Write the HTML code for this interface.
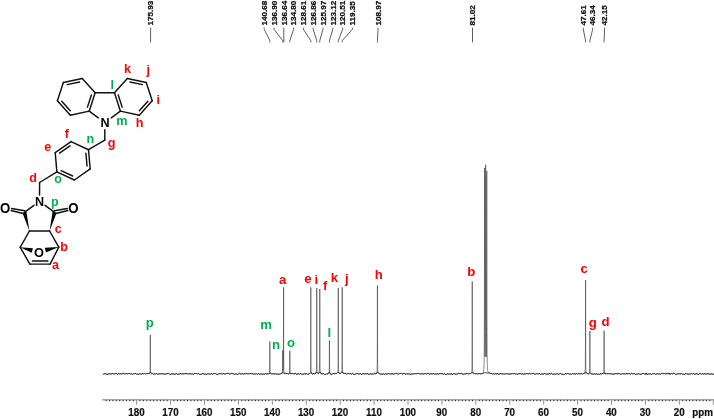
<!DOCTYPE html>
<html><head><meta charset="utf-8"><style>
html,body{margin:0;padding:0;background:#fff;}
svg{display:block;filter:blur(0.3px);}
text{font-family:"Liberation Sans",sans-serif;font-weight:bold;}
</style></head><body>
<svg width="714" height="419" viewBox="0 0 714 419">
<rect width="714" height="419" fill="#fff"/>
<path d="M103.00,373.90 L103.33,374.19 L103.66,374.06 L103.99,373.83 L104.65,373.96 L105.31,373.63 L105.64,373.64 L105.97,374.06 L106.30,374.13 L106.96,374.12 L107.95,374.25 L108.28,373.93 L108.61,373.83 L110.26,373.81 L110.92,374.20 L111.25,374.14 L111.58,373.69 L112.57,373.57 L112.90,373.71 L113.23,374.09 L113.89,373.68 L114.88,373.86 L115.21,374.08 L115.87,373.41 L116.20,373.37 L116.86,373.70 L117.52,374.24 L117.85,374.21 L118.51,373.57 L118.84,373.34 L119.17,373.58 L119.50,374.07 L119.83,374.14 L120.49,373.81 L120.82,373.42 L121.15,373.45 L121.48,373.90 L121.81,374.06 L122.47,373.67 L123.13,373.41 L123.46,373.35 L123.79,373.40 L124.12,373.65 L124.45,374.03 L125.11,373.68 L125.44,373.80 L125.77,373.76 L126.10,373.54 L126.43,373.48 L126.76,373.92 L127.09,374.10 L127.42,373.89 L127.75,373.78 L128.08,373.87 L128.74,373.34 L129.07,373.29 L129.40,373.46 L130.06,374.04 L130.72,374.12 L131.38,373.64 L131.71,373.63 L132.04,373.83 L132.37,374.34 L132.70,374.39 L133.36,373.82 L133.69,373.75 L134.35,373.91 L134.68,373.58 L135.01,373.38 L135.34,373.44 L136.00,373.74 L136.33,374.12 L136.66,374.22 L137.32,374.08 L138.31,374.31 L138.64,374.29 L139.30,373.76 L139.63,373.78 L139.96,373.62 L140.29,373.76 L140.95,374.32 L141.28,374.36 L141.61,374.09 L141.94,373.60 L142.27,373.52 L142.60,373.62 L143.26,374.06 L143.59,373.66 L143.92,373.54 L144.78,373.57 L145.24,374.12 L145.59,374.03 L145.99,373.64 L146.38,373.66 L146.78,373.54 L147.22,373.76 L147.99,373.26 L148.38,373.37 L148.81,373.79 L149.20,373.83 L149.34,373.72 L149.74,373.28 L149.91,372.75 L150.03,371.64 L150.10,369.64 L150.21,361.10 L150.31,334.86 L150.41,362.41 L150.54,370.55 L150.66,372.13 L150.87,372.89 L151.03,373.17 L151.35,373.53 L151.99,374.05 L152.38,373.53 L152.78,373.40 L153.59,374.42 L153.99,374.45 L154.81,373.66 L155.19,374.08 L155.26,374.08 L155.59,374.04 L155.99,373.63 L156.79,373.57 L157.12,373.99 L157.45,374.21 L157.78,374.29 L158.11,374.27 L158.44,374.12 L158.77,373.88 L159.10,373.97 L159.76,373.58 L160.09,373.51 L160.42,373.70 L160.75,373.79 L161.08,373.76 L161.74,373.95 L162.07,373.91 L162.40,373.73 L162.73,373.86 L163.39,373.94 L163.72,373.96 L164.05,373.90 L164.38,374.07 L164.71,373.96 L165.70,374.03 L166.03,373.89 L166.36,373.84 L166.69,374.05 L167.35,373.63 L168.01,373.74 L168.34,373.44 L168.67,373.49 L169.33,374.19 L169.66,374.28 L169.99,374.23 L170.32,374.35 L170.65,374.26 L171.31,373.86 L171.64,373.92 L171.97,373.88 L172.30,374.00 L172.96,373.73 L173.29,373.78 L173.62,374.19 L173.95,374.25 L175.27,374.12 L176.26,373.64 L176.59,373.72 L177.25,374.26 L177.91,374.24 L178.90,374.04 L179.23,373.80 L179.56,374.05 L180.22,373.64 L180.55,373.66 L180.88,373.87 L181.54,373.92 L181.87,374.03 L182.53,373.76 L182.86,373.87 L183.52,373.89 L184.18,373.70 L184.51,373.67 L185.17,374.11 L185.83,373.37 L186.16,373.28 L186.49,373.47 L186.82,373.89 L187.15,374.14 L187.48,373.90 L188.14,374.13 L188.47,373.89 L188.80,373.54 L189.46,373.66 L190.12,373.99 L190.45,373.90 L190.78,373.66 L191.11,373.71 L191.44,374.03 L191.77,374.23 L192.10,374.15 L192.43,373.89 L192.76,373.87 L193.09,374.13 L193.42,374.25 L193.75,374.00 L194.08,373.53 L194.41,373.43 L194.74,373.64 L195.07,373.72 L195.73,373.35 L196.06,373.31 L196.39,373.47 L197.05,373.99 L197.38,374.03 L197.71,373.78 L198.04,373.37 L198.37,373.34 L199.03,374.13 L199.36,374.35 L199.69,374.27 L200.02,374.03 L200.35,374.30 L200.68,374.36 L201.34,374.03 L201.67,374.00 L202.00,373.75 L202.33,373.60 L203.32,373.72 L203.98,374.33 L204.31,374.35 L204.97,373.78 L205.30,373.81 L205.63,374.28 L205.96,374.47 L206.29,374.47 L207.28,373.99 L207.94,373.55 L208.27,373.63 L208.60,373.83 L208.93,373.94 L209.26,373.89 L209.59,374.02 L210.25,373.98 L210.58,374.09 L210.91,374.08 L211.24,373.73 L211.90,373.71 L212.23,373.99 L212.56,374.10 L213.22,373.64 L213.55,373.59 L213.88,373.77 L214.21,373.79 L214.87,373.38 L215.20,373.33 L215.86,373.86 L216.52,374.16 L216.85,374.41 L217.18,374.51 L217.51,374.51 L217.84,374.38 L218.50,373.95 L219.82,373.59 L220.48,373.89 L221.14,373.42 L221.80,373.93 L222.13,374.00 L222.46,373.86 L222.79,373.81 L223.12,373.88 L223.78,373.45 L224.11,373.51 L224.44,373.87 L225.10,374.18 L225.76,374.01 L226.09,373.86 L226.42,373.41 L226.75,373.37 L227.08,373.64 L227.41,373.65 L228.07,373.33 L228.40,373.40 L229.72,374.08 L230.05,374.17 L230.38,373.82 L230.71,373.64 L231.04,373.67 L231.70,373.48 L232.36,373.66 L233.02,373.54 L233.35,373.62 L233.68,373.90 L234.34,374.27 L234.67,374.33 L235.33,373.96 L235.66,373.95 L236.32,373.76 L236.98,374.30 L237.64,374.47 L237.97,374.45 L238.30,374.31 L238.96,373.43 L239.29,373.30 L239.62,373.47 L240.28,373.95 L240.94,373.93 L241.60,374.01 L241.93,373.71 L242.26,373.74 L242.92,373.51 L243.25,373.66 L243.58,374.05 L243.91,374.10 L244.57,373.80 L244.90,373.85 L245.23,374.03 L245.89,373.42 L246.22,373.36 L246.55,373.42 L246.88,373.57 L247.21,373.92 L247.54,373.81 L247.87,374.02 L248.20,373.92 L248.53,373.70 L248.86,373.69 L249.19,373.85 L250.18,373.55 L250.51,373.49 L250.84,373.52 L251.17,373.37 L251.50,373.56 L251.83,373.91 L252.16,373.97 L252.49,373.74 L252.82,373.70 L253.15,374.05 L253.48,374.20 L254.14,373.79 L254.47,373.85 L254.80,374.14 L255.13,374.24 L255.46,374.09 L256.12,373.56 L256.45,373.65 L256.78,374.07 L257.44,374.35 L257.77,374.33 L258.10,374.13 L258.43,373.79 L258.76,373.67 L259.09,374.05 L259.42,374.21 L260.41,374.04 L260.74,373.84 L261.07,373.76 L262.06,374.00 L262.72,374.40 L263.05,374.36 L263.71,373.86 L264.03,373.90 L264.43,374.19 L264.83,374.01 L265.23,373.97 L265.63,373.61 L266.02,373.74 L266.83,374.27 L267.23,374.16 L267.63,373.72 L268.00,373.89 L268.40,373.87 L268.80,373.59 L269.19,373.76 L269.41,373.41 L269.55,372.68 L269.70,369.48 L269.87,341.52 L270.01,367.65 L270.11,371.53 L270.19,372.51 L270.30,373.03 L270.65,373.50 L271.20,373.70 L271.63,373.95 L272.03,373.99 L272.83,373.73 L273.61,373.89 L274.03,374.17 L275.23,373.60 L275.59,373.72 L275.92,374.08 L276.58,374.06 L276.86,374.19 L277.58,374.24 L277.98,373.87 L278.38,374.23 L278.78,374.27 L279.18,374.08 L279.98,374.10 L280.38,373.90 L280.78,373.84 L281.20,373.42 L281.60,373.24 L282.00,373.50 L282.23,373.24 L282.37,372.73 L282.52,370.33 L282.69,350.25 L282.79,364.92 L282.88,370.25 L282.99,371.57 L283.02,371.64 L283.06,371.61 L283.14,371.23 L283.26,369.46 L283.35,366.53 L283.47,348.98 L283.58,287.34 L283.68,344.84 L283.76,363.70 L283.84,368.60 L283.95,371.56 L284.12,373.09 L284.26,373.58 L284.42,373.89 L284.59,373.99 L284.80,374.02 L285.18,373.48 L285.58,373.30 L286.38,373.50 L287.18,373.27 L287.58,373.43 L287.98,374.01 L288.06,374.02 L288.40,373.86 L288.82,373.82 L289.10,373.73 L289.34,373.54 L289.47,373.20 L289.61,371.84 L289.69,368.93 L289.82,350.71 L289.97,369.98 L290.08,372.54 L290.17,373.16 L290.31,373.48 L290.51,373.61 L290.73,373.65 L291.20,373.41 L291.98,373.49 L292.42,373.57 L293.18,373.84 L293.58,373.71 L293.98,373.77 L294.40,373.99 L294.78,373.43 L295.18,373.18 L295.58,373.44 L296.05,374.13 L297.04,374.28 L297.70,373.95 L298.03,374.08 L298.36,373.82 L298.69,373.86 L299.35,374.14 L299.68,374.06 L300.01,373.74 L300.34,373.67 L300.67,373.49 L301.00,373.56 L301.66,374.39 L301.99,374.42 L302.32,374.22 L302.98,374.29 L303.31,374.20 L303.64,374.02 L303.97,374.23 L304.81,373.58 L305.54,374.00 L306.01,374.12 L306.42,373.93 L306.81,373.56 L307.60,374.32 L308.01,374.26 L308.42,374.29 L308.81,374.02 L309.21,373.88 L309.60,373.49 L309.82,373.53 L310.00,373.48 L310.18,373.06 L310.38,371.92 L310.50,369.87 L310.64,361.52 L310.81,287.36 L310.92,345.57 L311.01,364.54 L311.11,369.16 L311.25,371.65 L311.46,372.99 L311.64,373.45 L311.88,373.83 L312.08,374.00 L313.21,374.10 L313.62,373.44 L314.01,373.33 L314.41,373.85 L314.81,374.22 L315.07,374.03 L315.21,373.91 L315.82,373.03 L316.13,372.43 L316.29,371.67 L316.40,370.38 L316.54,365.14 L316.62,354.44 L316.75,288.04 L316.91,360.05 L317.05,369.39 L317.17,371.51 L317.37,372.75 L317.62,373.27 L318.00,373.43 L318.40,373.72 L318.95,372.89 L319.15,372.32 L319.33,371.38 L319.50,368.27 L319.60,361.39 L319.66,349.24 L319.77,289.03 L319.92,358.89 L320.04,368.71 L320.14,371.00 L320.29,372.24 L320.56,372.99 L321.20,373.94 L321.61,373.84 L322.01,373.91 L322.41,373.64 L322.81,373.96 L323.21,373.63 L323.60,373.56 L324.00,374.12 L324.41,374.51 L324.80,374.50 L325.20,374.35 L325.60,374.46 L326.00,374.44 L326.40,373.95 L326.80,373.66 L327.20,374.02 L328.00,373.61 L328.40,373.54 L328.71,373.10 L328.98,372.54 L329.10,371.91 L329.19,370.84 L329.30,366.70 L329.44,340.34 L329.59,367.63 L329.70,371.42 L329.79,372.48 L329.92,373.20 L330.16,373.78 L330.56,374.22 L330.81,374.38 L331.60,374.38 L332.00,374.18 L332.45,374.11 L332.80,373.89 L333.20,373.38 L333.60,373.42 L334.00,373.87 L334.40,373.75 L334.80,374.01 L335.57,373.41 L335.98,373.68 L336.38,373.61 L336.80,373.22 L337.14,373.15 L337.41,372.99 L337.58,372.75 L337.72,372.35 L337.89,371.14 L338.00,369.01 L338.13,359.99 L338.29,287.89 L338.41,352.05 L338.48,363.56 L338.60,369.58 L338.71,371.35 L338.88,372.44 L339.10,373.06 L339.60,373.80 L339.99,373.98 L340.38,373.36 L340.80,373.04 L341.26,372.92 L341.44,372.72 L341.57,372.42 L341.77,371.35 L341.90,369.44 L342.06,360.86 L342.23,287.36 L342.39,360.86 L342.56,369.64 L342.70,371.59 L342.94,372.65 L343.49,373.48 L343.99,373.83 L344.79,373.37 L345.22,373.31 L345.99,373.48 L346.79,374.25 L347.20,374.09 L347.58,373.56 L347.99,373.25 L348.52,373.43 L348.85,373.67 L349.51,373.87 L349.84,373.65 L350.17,373.54 L350.50,373.70 L350.83,374.00 L351.82,374.10 L352.15,373.93 L352.48,373.56 L352.81,373.53 L353.14,373.83 L354.13,374.49 L354.46,374.45 L354.79,374.20 L355.12,374.21 L355.45,374.10 L356.11,373.70 L356.44,373.81 L357.76,373.42 L358.09,373.61 L358.42,374.14 L358.75,374.25 L359.08,374.17 L359.74,373.72 L360.40,373.61 L361.06,374.20 L361.39,374.34 L361.72,374.35 L362.05,374.24 L362.38,373.89 L362.71,373.89 L363.37,373.66 L363.70,373.67 L364.03,373.59 L364.36,373.80 L364.69,373.88 L365.35,373.74 L365.68,373.83 L366.01,374.03 L366.34,373.93 L367.00,373.57 L367.33,373.53 L367.66,373.77 L367.99,374.27 L368.32,374.36 L368.65,374.16 L368.98,374.15 L369.31,374.29 L369.64,374.20 L369.97,373.72 L370.30,373.66 L370.96,373.93 L371.29,373.97 L371.59,374.19 L371.99,373.97 L372.39,374.11 L372.79,374.05 L373.19,373.79 L373.60,374.06 L374.39,373.32 L374.79,373.30 L375.19,373.67 L375.59,373.80 L376.00,373.63 L376.39,373.67 L376.61,373.34 L376.77,372.93 L377.01,371.57 L377.14,369.12 L377.23,364.65 L377.33,344.74 L377.43,285.52 L377.53,344.68 L377.64,364.70 L377.73,368.94 L377.89,371.43 L378.15,372.64 L378.32,372.95 L378.67,373.36 L378.80,373.47 L379.19,373.58 L379.59,373.77 L379.99,374.14 L381.19,373.89 L381.59,374.11 L381.99,374.05 L382.79,374.36 L383.50,373.87 L383.83,373.78 L384.16,373.98 L384.49,374.29 L384.82,374.33 L385.15,374.18 L385.48,373.85 L385.81,373.79 L386.47,374.10 L386.80,373.87 L387.13,374.07 L387.46,374.00 L388.12,373.60 L388.78,373.53 L389.11,373.89 L389.44,374.00 L390.10,373.52 L390.43,373.68 L390.76,373.96 L391.09,373.79 L391.42,373.84 L392.08,374.15 L392.74,373.74 L393.07,374.05 L393.40,374.24 L393.73,374.17 L394.39,373.80 L394.72,373.87 L395.05,373.78 L395.71,373.38 L396.37,373.28 L397.03,373.52 L397.69,373.98 L398.35,374.09 L398.68,374.09 L399.34,373.58 L400.00,373.46 L400.33,373.55 L400.99,373.32 L401.32,373.30 L401.65,373.43 L402.31,373.97 L403.30,373.89 L403.63,373.66 L403.96,373.62 L404.29,373.66 L404.62,373.58 L404.95,373.59 L405.61,374.06 L405.94,374.08 L406.27,373.81 L406.60,373.87 L406.93,374.06 L407.26,374.04 L407.92,373.68 L408.25,373.89 L408.58,373.94 L408.91,373.84 L409.24,373.90 L409.90,374.25 L410.23,374.28 L410.89,374.19 L411.22,373.86 L411.88,374.01 L412.87,374.01 L413.53,373.83 L413.86,373.84 L414.52,373.61 L414.85,373.74 L415.18,373.76 L415.51,373.67 L416.17,373.94 L416.50,373.86 L416.83,373.54 L417.49,373.47 L417.82,373.61 L418.15,373.63 L418.48,373.48 L418.81,373.52 L419.14,373.72 L419.80,373.65 L420.13,373.75 L420.46,374.04 L420.79,373.83 L421.45,373.76 L422.11,373.82 L422.77,373.69 L423.43,373.93 L424.09,374.06 L424.42,374.01 L424.75,373.67 L425.08,373.46 L425.41,373.45 L426.40,373.92 L427.39,373.55 L427.72,373.58 L428.05,373.73 L428.38,373.59 L429.04,374.01 L429.37,374.05 L430.03,373.60 L430.69,374.04 L431.35,373.79 L431.68,373.92 L432.34,373.94 L433.00,373.63 L433.33,373.59 L433.66,373.67 L433.99,373.58 L434.32,374.05 L434.65,374.21 L435.31,373.89 L435.64,373.92 L436.30,374.17 L436.96,373.56 L437.29,373.61 L437.95,374.15 L438.28,374.18 L438.94,373.65 L439.27,373.54 L439.60,373.85 L440.26,373.62 L440.92,373.87 L441.25,373.80 L441.58,373.64 L441.91,373.64 L442.24,373.72 L442.90,373.70 L443.23,373.89 L443.56,374.21 L444.22,373.79 L444.55,373.78 L445.21,374.39 L445.54,374.40 L445.87,374.32 L446.53,374.36 L446.86,374.27 L447.85,373.68 L448.18,373.81 L448.51,374.09 L448.84,374.23 L449.17,374.30 L449.50,374.06 L450.49,373.99 L450.82,374.36 L451.15,374.34 L451.48,373.81 L451.81,373.67 L452.14,373.99 L452.47,374.44 L452.80,374.51 L453.46,373.68 L453.79,373.37 L454.12,373.38 L454.45,373.73 L454.78,374.27 L455.11,374.28 L455.44,374.11 L455.77,374.09 L456.10,374.24 L456.43,374.25 L456.76,373.97 L457.09,374.05 L458.41,373.33 L459.07,373.61 L459.73,373.55 L460.06,373.68 L460.39,373.68 L460.72,373.85 L461.38,373.49 L461.71,373.49 L462.04,373.65 L462.70,374.19 L463.03,374.27 L464.02,374.12 L464.68,373.73 L465.01,373.65 L465.34,373.80 L465.67,374.05 L466.40,373.84 L466.80,373.48 L467.20,373.49 L467.60,373.41 L468.40,373.96 L468.80,373.82 L469.20,373.83 L469.60,373.49 L470.40,373.62 L470.76,373.56 L471.20,373.26 L471.35,373.26 L471.48,373.18 L471.61,372.95 L471.72,372.51 L471.90,370.51 L472.01,366.49 L472.13,347.57 L472.24,281.35 L472.38,355.52 L472.48,366.71 L472.56,369.63 L472.68,371.41 L472.94,372.65 L473.11,373.03 L473.32,373.29 L473.60,373.48 L474.00,373.59 L474.40,373.46 L474.80,373.82 L475.60,374.02 L476.00,373.46 L476.40,373.56 L477.20,374.15 L477.60,374.00 L478.00,373.49 L478.54,373.65 L478.83,373.84 L479.20,373.63 L479.55,373.58 L480.03,374.06 L480.39,374.00 L480.79,373.55 L481.59,373.69 L481.99,373.24 L482.39,373.42 L482.63,373.32 L482.79,373.22 L483.00,372.86 L483.41,371.78 L483.66,370.51 L483.84,368.85 L484.09,363.40 L484.25,353.19 L484.43,306.72 L484.59,167.96 L484.82,332.03 L484.90,346.34 L485.01,354.48 L485.08,356.37 L485.12,356.68 L485.16,356.51 L485.30,351.55 L485.42,336.67 L485.50,309.14 L485.67,164.75 L485.84,308.84 L485.93,336.95 L486.05,352.00 L486.19,356.94 L486.23,357.09 L486.27,356.77 L486.34,354.87 L486.45,346.81 L486.53,332.68 L486.76,170.94 L486.92,309.83 L487.10,353.83 L487.27,363.82 L487.54,369.29 L487.71,370.68 L487.96,371.72 L488.14,372.06 L488.39,372.27 L488.79,372.97 L489.19,372.94 L489.59,372.79 L489.99,372.93 L490.79,373.51 L491.19,373.41 L491.59,373.44 L492.04,373.82 L492.40,373.81 L492.73,373.94 L493.06,373.80 L493.39,373.76 L494.05,373.86 L494.38,374.10 L494.71,374.10 L495.70,373.66 L496.03,373.89 L496.36,373.85 L496.69,374.04 L497.02,374.11 L497.35,373.87 L497.68,373.45 L498.01,373.40 L498.34,373.97 L498.67,374.35 L499.00,374.41 L499.66,374.02 L499.99,374.00 L500.32,373.52 L500.65,373.37 L500.98,373.56 L501.31,373.87 L501.64,374.02 L501.97,374.09 L502.30,373.81 L502.63,373.83 L502.96,374.04 L503.29,374.15 L503.62,373.81 L503.95,373.77 L504.61,374.18 L504.94,374.10 L505.27,373.82 L505.60,373.93 L506.59,373.66 L506.92,373.68 L507.58,373.90 L507.91,373.83 L508.24,373.86 L509.23,374.24 L509.56,374.04 L509.89,373.96 L510.22,374.07 L510.55,373.95 L510.88,373.58 L511.21,373.52 L511.54,373.97 L512.20,373.58 L512.53,373.52 L512.86,373.64 L513.19,373.67 L513.85,373.99 L514.18,373.92 L514.51,373.62 L514.84,373.44 L515.17,373.64 L515.50,374.06 L515.83,374.03 L516.16,373.88 L516.49,373.92 L516.82,374.24 L517.15,374.35 L518.14,373.98 L518.47,373.73 L518.80,373.71 L519.13,373.82 L520.12,373.50 L520.45,373.50 L520.78,373.68 L521.11,374.10 L521.44,374.17 L522.10,373.62 L522.43,373.74 L522.76,374.11 L523.09,374.26 L524.08,373.99 L524.41,373.82 L524.74,374.11 L525.07,374.22 L525.40,374.03 L526.06,373.48 L526.39,373.44 L526.72,373.82 L527.05,373.91 L527.71,373.60 L528.04,373.92 L528.37,374.14 L528.70,373.66 L529.03,373.38 L529.36,373.33 L529.69,373.44 L530.02,373.68 L530.68,374.01 L531.34,373.56 L531.67,373.70 L532.00,374.06 L532.33,373.62 L532.66,373.51 L533.32,373.51 L533.65,373.38 L533.98,373.57 L534.31,373.88 L534.64,374.02 L534.97,374.07 L535.63,374.08 L535.96,373.92 L536.29,373.65 L536.95,373.93 L537.28,373.88 L537.61,373.64 L538.27,373.72 L538.60,373.91 L538.93,373.96 L539.26,373.69 L539.59,373.62 L539.92,374.04 L540.25,374.26 L540.58,374.34 L540.91,374.29 L541.57,373.89 L541.90,373.87 L543.22,374.24 L543.55,373.94 L543.88,373.92 L544.54,373.50 L544.87,373.70 L545.20,374.13 L545.53,373.87 L545.86,373.91 L546.52,374.27 L547.18,374.00 L547.84,374.40 L548.17,374.45 L548.50,374.17 L548.83,373.62 L549.16,373.44 L549.82,373.55 L550.48,374.14 L550.81,374.15 L551.14,373.64 L551.47,373.42 L551.80,373.51 L552.46,374.11 L552.79,374.18 L553.12,374.02 L553.45,374.08 L554.11,374.38 L554.44,374.20 L554.77,373.77 L555.43,374.22 L555.76,374.33 L556.09,374.21 L556.42,373.83 L556.75,373.59 L557.74,373.78 L558.07,373.91 L558.40,374.18 L559.06,374.16 L559.39,374.07 L559.72,373.83 L560.05,373.47 L560.38,373.37 L561.04,374.05 L561.37,374.22 L562.36,374.19 L563.02,374.42 L563.35,374.44 L563.68,374.36 L564.34,374.49 L565.00,374.24 L565.66,373.47 L565.99,373.48 L566.32,373.94 L566.65,373.85 L566.98,373.64 L567.31,373.54 L567.64,373.57 L567.97,373.75 L568.30,373.64 L568.96,373.93 L569.29,373.95 L569.95,374.37 L570.61,374.04 L570.94,373.98 L571.60,374.32 L571.93,374.15 L572.26,373.77 L572.59,373.54 L572.92,373.68 L573.25,374.11 L573.58,374.00 L573.91,373.65 L574.57,373.87 L575.23,373.87 L575.56,374.08 L576.22,373.54 L576.55,373.48 L577.21,373.81 L577.54,374.17 L577.87,374.10 L578.53,373.56 L579.19,373.56 L579.57,374.02 L579.97,374.13 L580.37,373.66 L580.84,373.67 L581.17,373.58 L581.57,373.66 L581.97,374.12 L582.37,374.28 L582.82,373.79 L583.25,373.70 L583.97,373.30 L584.40,373.41 L584.50,373.33 L584.95,372.62 L585.15,371.44 L585.28,368.86 L585.37,363.78 L585.47,343.12 L585.57,280.17 L585.68,346.96 L585.81,366.50 L585.93,370.32 L586.13,372.26 L586.41,373.12 L587.17,373.76 L587.57,373.70 L588.03,373.92 L588.39,373.96 L588.97,373.57 L589.30,373.18 L589.41,372.93 L589.60,371.51 L589.70,368.37 L589.75,363.07 L589.88,331.09 L590.02,366.29 L590.14,371.28 L590.25,372.54 L590.39,373.31 L590.64,373.63 L591.55,373.93 L591.96,373.85 L592.39,374.02 L592.84,373.98 L593.55,374.24 L593.96,374.31 L594.43,373.89 L594.84,373.90 L595.24,374.27 L595.63,374.01 L596.02,373.88 L596.35,373.96 L596.68,373.89 L597.34,374.30 L597.67,374.25 L598.41,373.84 L598.81,374.23 L599.21,374.44 L599.61,374.39 L599.98,374.23 L600.41,373.72 L600.81,374.08 L601.21,374.26 L602.01,373.48 L602.41,373.65 L602.80,373.41 L603.20,373.26 L603.44,373.46 L603.60,373.37 L603.74,372.61 L603.83,371.37 L603.94,366.31 L604.09,330.73 L604.19,359.91 L604.28,369.03 L604.36,371.46 L604.47,372.76 L604.66,373.56 L604.80,373.79 L604.96,373.89 L605.21,373.94 L606.01,373.43 L606.41,373.56 L606.81,373.84 L607.21,373.89 L607.61,373.61 L608.01,373.44 L608.81,373.69 L609.21,374.09 L609.61,373.74 L610.54,373.77 L610.87,373.71 L611.20,373.83 L611.53,373.81 L611.86,373.70 L612.52,374.11 L613.18,373.74 L613.51,374.04 L614.17,373.89 L614.50,373.97 L614.83,373.86 L615.16,373.66 L616.15,373.77 L616.81,373.61 L617.80,373.91 L618.13,373.82 L618.46,373.54 L618.79,373.50 L619.12,373.85 L619.45,373.76 L619.78,373.76 L620.44,374.14 L620.77,374.24 L621.10,373.97 L621.43,373.97 L621.76,373.86 L622.09,373.57 L622.42,373.55 L622.75,373.80 L623.08,373.72 L623.74,373.94 L624.07,373.92 L624.40,373.70 L624.73,373.97 L625.39,374.10 L625.72,373.95 L626.05,373.46 L626.38,373.41 L626.71,373.72 L627.37,373.76 L628.03,374.16 L628.69,373.45 L629.02,373.41 L630.01,374.24 L630.34,374.21 L631.33,373.50 L631.66,373.41 L631.99,373.45 L632.32,373.62 L632.65,373.97 L632.98,374.00 L633.31,373.75 L633.64,373.60 L633.97,373.87 L634.63,373.67 L634.96,373.89 L635.29,374.33 L635.62,374.35 L635.95,373.98 L636.28,374.06 L636.94,374.04 L637.60,374.16 L637.93,374.14 L638.59,373.74 L638.92,373.77 L639.25,374.03 L639.58,373.93 L639.91,373.91 L640.40,374.17 L641.20,374.36 L641.60,373.99 L642.00,373.86 L642.40,373.45 L642.80,373.35 L643.60,373.61 L644.40,373.77 L644.80,374.18 L645.20,373.93 L645.60,373.88 L646.00,374.24 L646.12,374.17 L646.20,373.96 L646.32,372.86 L646.50,374.17 L646.65,374.30 L647.20,374.41 L648.00,373.93 L648.40,374.11 L648.80,373.73 L649.20,374.09 L650.00,373.72 L650.40,373.80 L650.80,373.91 L651.20,374.28 L651.60,374.36 L652.00,374.13 L652.45,373.70 L653.11,373.59 L653.44,373.74 L653.77,373.72 L654.10,373.54 L654.76,373.65 L655.09,374.08 L655.42,374.28 L655.75,374.18 L656.08,373.97 L656.41,374.07 L656.74,373.83 L657.07,373.87 L657.73,373.75 L658.39,373.94 L659.05,373.65 L659.38,373.77 L660.04,374.34 L660.37,374.38 L661.03,373.63 L661.36,373.44 L661.69,373.36 L662.35,373.32 L663.01,373.76 L663.34,373.83 L663.62,373.68 L664.00,373.85 L664.42,373.67 L664.82,373.60 L665.22,373.79 L665.62,373.82 L666.42,373.58 L666.82,373.97 L667.14,374.11 L667.22,374.09 L667.62,373.45 L668.00,373.40 L668.40,373.79 L668.80,373.68 L669.16,373.68 L669.28,373.56 L669.38,373.07 L669.48,373.78 L669.60,374.12 L670.00,373.99 L670.40,374.25 L670.80,373.98 L671.22,373.44 L671.59,373.42 L672.02,373.49 L672.42,373.94 L672.82,374.11 L673.22,373.46 L673.62,373.20 L674.02,373.28 L674.74,373.64 L675.22,374.31 L675.55,374.40 L675.88,374.41 L676.54,374.23 L676.87,374.25 L677.20,374.12 L677.53,373.87 L678.52,373.79 L679.18,374.09 L679.51,373.75 L679.84,373.64 L680.50,374.05 L681.16,373.57 L681.49,373.56 L681.82,373.68 L682.48,374.17 L682.81,374.12 L683.14,374.24 L683.47,374.17 L684.13,374.42 L684.46,374.39 L684.79,374.18 L685.12,374.13 L685.78,373.61 L686.11,373.58 L686.44,373.72 L686.77,373.54 L687.76,374.17 L688.09,374.28 L688.42,374.23 L688.75,373.91 L689.08,374.06 L689.41,374.09 L690.40,374.01 L690.73,374.12 L691.39,373.59 L691.72,373.68 L692.05,374.11 L692.38,374.20 L692.71,374.07 L693.04,373.74 L693.37,373.55 L693.70,373.67 L694.03,374.01 L694.36,374.19 L695.35,374.04 L695.68,373.89 L696.01,373.62 L696.67,373.77 L697.33,374.06 L697.66,374.07 L698.65,374.37 L698.98,374.33 L699.64,373.68 L699.97,373.86 L700.63,373.59 L700.96,373.64 L701.62,374.28 L701.95,374.17 L702.28,373.73 L702.61,373.56 L702.94,373.77 L703.27,374.15 L703.60,374.25 L703.93,373.66 L704.26,373.49 L704.92,374.04 L705.25,374.15 L705.58,374.13 L705.91,373.81 L706.24,373.82 L706.57,374.00 L706.90,374.06 L707.56,373.66 L707.89,373.56 L708.55,373.97 L709.21,373.83 L709.87,374.29 L710.20,374.33 L710.86,373.90 L711.52,373.93 L712.18,374.28 L712.51,374.29 L713.17,374.24 L714.16,373.79 L714.49,373.73" fill="none" stroke="#3a3a3a" stroke-width="0.6" stroke-linejoin="round"/>
<path d="M103.00,373.90 L103.30,374.20 L103.60,374.10 L103.90,373.89 L104.20,373.87 L104.50,373.94 L104.80,373.98 L105.10,373.72 L105.40,373.62 L105.70,373.72 L106.00,374.10 L106.30,374.13 L106.60,374.10 L106.90,374.09 L107.20,374.20 L107.50,374.19 L107.80,374.22 L108.10,374.14 L108.40,373.79 L108.70,373.84 L109.00,373.86 L109.30,373.84 L109.60,373.79 L109.90,373.84 L110.20,373.82 L110.50,373.89 L110.80,374.20 L111.10,374.21 L111.40,373.94 L111.70,373.67 L112.00,373.69 L112.30,373.60 L112.60,373.57 L112.90,373.71 L113.20,374.11 L113.50,373.91 L113.80,373.73 L114.10,373.68 L114.40,373.86 L114.70,373.82 L115.00,373.95 L115.30,373.97 L115.60,373.63 L115.90,373.38 L116.20,373.37 L116.50,373.50 L116.80,373.66 L117.10,373.88 L117.40,374.13 L117.70,374.27 L118.00,374.15 L118.30,373.79 L118.60,373.49 L118.90,373.39 L119.20,373.60 L119.50,374.07 L119.80,374.15 L120.10,374.03 L120.40,373.93 L120.70,373.54 L121.00,373.43 L121.30,373.61 L121.60,374.10 L121.90,374.04 L122.20,373.86 L122.50,373.66 L122.80,373.55 L123.10,373.42 L123.40,373.36 L123.70,373.37 L124.00,373.48 L124.30,373.91 L124.60,373.96 L124.90,373.80 L125.20,373.63 L125.50,373.84 L125.80,373.74 L126.10,373.54 L126.40,373.44 L126.70,373.84 L127.00,374.06 L127.30,374.03 L127.60,373.68 L127.90,373.88 L128.20,373.76 L128.50,373.52 L128.80,373.30 L129.10,373.28 L129.40,373.46 L129.70,373.74 L130.00,374.04 L130.30,374.06 L130.60,374.10 L130.90,374.02 L131.20,373.69 L131.50,373.61 L131.80,373.67 L132.10,373.92 L132.40,374.39 L132.70,374.39 L133.00,374.13 L133.30,373.84 L133.60,373.74 L133.90,373.77 L134.20,373.86 L134.50,373.80 L134.80,373.43 L135.10,373.36 L135.40,373.47 L135.70,373.64 L136.00,373.74 L136.30,374.09 L136.60,374.22 L136.90,374.19 L137.20,374.06 L137.50,374.10 L137.80,374.16 L138.10,374.24 L138.40,374.34 L138.70,374.28 L139.00,374.00 L139.30,373.76 L139.60,373.80 L139.90,373.65 L140.20,373.71 L140.50,373.93 L140.80,374.26 L141.10,374.37 L141.40,374.26 L141.70,373.96 L142.00,373.51 L142.30,373.52 L142.60,373.61 L142.90,373.81 L143.20,374.13 L143.50,373.77 L143.80,373.58 L144.10,373.52 L144.40,373.55 L144.70,373.56 L145.00,373.85 L145.30,374.10 L145.60,374.02 L145.90,373.72 L146.20,373.63 L146.50,373.62 L146.80,373.53 L147.10,373.70 L147.40,373.64 L147.70,373.44 L148.00,373.23 L148.30,373.32 L148.60,373.55 L148.90,373.74 L149.20,373.73 L149.50,373.39 L149.80,372.68 L150.10,372.67 L150.40,372.50 L150.70,372.33 L151.00,372.89 L151.30,373.35 L151.60,373.69 L151.90,373.94 L152.20,373.75 L152.50,373.46 L152.80,373.38 L153.10,373.79 L153.40,374.18 L153.70,374.43 L154.00,374.44 L154.30,374.15 L154.60,373.85 L154.90,373.76 L155.20,374.09 L155.50,374.05 L155.80,373.83 L156.10,373.61 L156.40,373.62 L156.70,373.58 L157.00,373.83 L157.30,374.14 L157.60,374.27 L157.90,374.30 L158.20,374.23 L158.50,374.08 L158.80,373.85 L159.10,373.97 L159.40,373.83 L159.70,373.60 L160.00,373.46 L160.30,373.63 L160.60,373.74 L160.90,373.78 L161.20,373.74 L161.50,373.90 L161.80,373.95 L162.10,373.89 L162.40,373.73 L162.70,373.85 L163.00,373.88 L163.30,373.91 L163.60,374.00 L163.90,373.90 L164.20,373.97 L164.50,374.04 L164.80,373.93 L165.10,373.96 L165.40,374.02 L165.70,374.03 L166.00,373.89 L166.30,373.85 L166.60,373.98 L166.90,374.01 L167.20,373.63 L167.50,373.63 L167.80,373.69 L168.10,373.66 L168.40,373.39 L168.70,373.50 L169.00,373.84 L169.30,374.18 L169.60,374.29 L169.90,374.24 L170.20,374.30 L170.50,374.33 L170.80,374.19 L171.10,373.93 L171.40,373.88 L171.70,373.91 L172.00,373.87 L172.30,374.00 L172.60,373.90 L172.90,373.74 L173.20,373.67 L173.50,374.06 L173.80,374.22 L174.10,374.24 L174.40,374.19 L174.70,374.13 L175.00,374.13 L175.30,374.11 L175.60,373.96 L175.90,373.85 L176.20,373.68 L176.50,373.63 L176.80,373.91 L177.10,374.17 L177.40,374.27 L177.70,374.26 L178.00,374.23 L178.30,374.13 L178.60,374.11 L178.90,374.04 L179.20,373.77 L179.50,374.00 L179.80,373.93 L180.10,373.71 L180.40,373.53 L180.70,373.78 L181.00,373.87 L181.30,373.89 L181.60,373.93 L181.90,374.05 L182.20,373.90 L182.50,373.75 L182.80,373.87 L183.10,373.87 L183.40,373.88 L183.70,373.87 L184.00,373.80 L184.30,373.63 L184.60,373.74 L184.90,373.96 L185.20,374.13 L185.50,373.71 L185.80,373.40 L186.10,373.26 L186.40,373.35 L186.70,373.74 L187.00,374.03 L187.30,374.08 L187.60,373.78 L187.90,374.11 L188.20,374.09 L188.50,373.86 L188.80,373.54 L189.10,373.60 L189.40,373.65 L189.70,373.76 L190.00,374.02 L190.30,373.96 L190.60,373.79 L190.90,373.67 L191.20,373.73 L191.50,374.11 L191.80,374.23 L192.10,374.15 L192.40,373.89 L192.70,373.87 L193.00,374.05 L193.30,374.24 L193.60,374.27 L193.90,373.74 L194.20,373.49 L194.50,373.49 L194.80,373.68 L195.10,373.72 L195.40,373.56 L195.70,373.36 L196.00,373.28 L196.30,373.43 L196.60,373.63 L196.90,373.87 L197.20,374.11 L197.50,373.97 L197.80,373.65 L198.10,373.36 L198.40,373.33 L198.70,373.71 L199.00,374.09 L199.30,374.35 L199.60,374.34 L199.90,374.10 L200.20,374.18 L200.50,374.35 L200.80,374.37 L201.10,374.11 L201.40,374.04 L201.70,373.98 L202.00,373.75 L202.30,373.61 L202.60,373.65 L202.90,373.70 L203.20,373.60 L203.50,373.91 L203.80,374.18 L204.10,374.35 L204.40,374.35 L204.70,373.98 L205.00,373.76 L205.30,373.81 L205.60,374.26 L205.90,374.43 L206.20,374.48 L206.50,374.39 L206.80,374.18 L207.10,374.08 L207.40,373.89 L207.70,373.69 L208.00,373.51 L208.30,373.64 L208.60,373.83 L208.90,373.95 L209.20,373.87 L209.50,373.98 L209.80,373.98 L210.10,373.96 L210.40,373.99 L210.70,374.15 L211.00,373.97 L211.30,373.72 L211.60,373.69 L211.90,373.71 L212.20,373.95 L212.50,374.13 L212.80,373.97 L213.10,373.73 L213.40,373.61 L213.70,373.65 L214.00,373.85 L214.30,373.76 L214.60,373.56 L214.90,373.38 L215.20,373.33 L215.50,373.60 L215.80,373.82 L216.10,373.98 L216.40,374.06 L216.70,374.31 L217.00,374.45 L217.30,374.52 L217.60,374.51 L217.90,374.35 L218.20,374.13 L218.50,373.95 L218.80,373.88 L219.10,373.81 L219.40,373.71 L219.70,373.62 L220.00,373.55 L220.30,373.85 L220.60,373.79 L220.90,373.56 L221.20,373.39 L221.50,373.69 L221.80,373.93 L222.10,374.02 L222.40,373.87 L222.70,373.82 L223.00,373.85 L223.30,373.80 L223.60,373.50 L223.90,373.41 L224.20,373.62 L224.50,373.90 L224.80,374.06 L225.10,374.18 L225.40,374.12 L225.70,374.01 L226.00,373.99 L226.30,373.55 L226.60,373.38 L226.90,373.46 L227.20,373.76 L227.50,373.61 L227.80,373.43 L228.10,373.34 L228.40,373.40 L228.70,373.57 L229.00,373.68 L229.30,373.81 L229.60,374.02 L229.90,374.18 L230.20,374.01 L230.50,373.75 L230.80,373.60 L231.10,373.69 L231.40,373.58 L231.70,373.48 L232.00,373.59 L232.30,373.65 L232.60,373.64 L232.90,373.58 L233.20,373.48 L233.50,373.76 L233.80,373.98 L234.10,374.15 L234.40,374.30 L234.70,374.33 L235.00,374.15 L235.30,373.96 L235.60,373.98 L235.90,373.85 L236.20,373.77 L236.50,373.87 L236.80,374.24 L237.10,374.34 L237.40,374.42 L237.70,374.46 L238.00,374.45 L238.30,374.31 L238.60,373.90 L238.90,373.47 L239.20,373.26 L239.50,373.41 L239.80,373.62 L240.10,373.84 L240.40,374.02 L240.70,373.93 L241.00,373.94 L241.30,373.98 L241.60,374.01 L241.90,373.73 L242.20,373.72 L242.50,373.71 L242.80,373.47 L243.10,373.57 L243.40,373.84 L243.70,374.08 L244.00,374.10 L244.30,373.88 L244.60,373.79 L244.90,373.85 L245.20,374.06 L245.50,373.76 L245.80,373.49 L246.10,373.35 L246.40,373.39 L246.70,373.46 L247.00,373.70 L247.30,373.89 L247.60,373.79 L247.90,374.04 L248.20,373.92 L248.50,373.71 L248.80,373.66 L249.10,373.81 L249.40,373.79 L249.70,373.69 L250.00,373.61 L250.30,373.51 L250.60,373.50 L250.90,373.49 L251.20,373.35 L251.50,373.56 L251.80,373.87 L252.10,374.03 L252.40,373.75 L252.70,373.70 L253.00,373.89 L253.30,374.14 L253.60,374.23 L253.90,373.90 L254.20,373.79 L254.50,373.88 L254.80,374.14 L255.10,374.23 L255.40,374.12 L255.70,373.88 L256.00,373.55 L256.30,373.58 L256.60,373.84 L256.90,374.14 L257.20,374.28 L257.50,374.37 L257.80,374.32 L258.10,374.13 L258.40,373.80 L258.70,373.69 L259.00,373.93 L259.30,374.20 L259.60,374.21 L259.90,374.11 L260.20,374.06 L260.50,373.98 L260.80,373.80 L261.10,373.75 L261.40,373.82 L261.70,373.92 L262.00,373.96 L262.30,374.14 L262.60,374.33 L262.90,374.41 L263.20,374.30 L263.50,373.97 L263.80,373.86 L264.10,373.95 L264.40,374.20 L264.70,374.06 L265.00,374.00 L265.30,373.90 L265.60,373.59 L265.90,373.68 L266.20,373.84 L266.50,374.04 L266.80,374.26 L267.10,374.21 L267.40,373.93 L267.70,373.73 L268.00,373.86 L268.30,373.83 L268.60,373.67 L268.90,373.54 L269.20,373.53 L269.50,372.97 L269.80,373.01 L270.10,372.92 L270.40,372.83 L270.70,373.38 L271.00,373.57 L271.30,373.71 L271.60,373.91 L271.90,373.96 L272.20,373.91 L272.50,373.81 L272.80,373.71 L273.10,373.76 L273.40,373.83 L273.70,373.95 L274.00,374.17 L274.30,374.00 L274.60,373.86 L274.90,373.72 L275.20,373.58 L275.50,373.68 L275.80,373.93 L276.10,374.10 L276.40,373.95 L276.70,374.12 L277.00,374.19 L277.30,374.21 L277.60,374.23 L277.90,373.93 L278.20,374.03 L278.50,374.24 L278.80,374.25 L279.10,374.10 L279.40,374.08 L279.70,374.09 L280.00,374.06 L280.30,373.90 L280.60,373.81 L280.90,373.67 L281.20,373.33 L281.50,373.16 L281.80,373.21 L282.10,373.08 L282.40,372.85 L282.70,372.95 L283.00,372.85 L283.30,372.79 L283.60,373.06 L283.90,373.28 L284.20,373.35 L284.50,373.60 L284.80,373.81 L285.10,373.46 L285.40,373.27 L285.70,373.25 L286.00,373.36 L286.30,373.43 L286.60,373.38 L286.90,373.29 L287.20,373.23 L287.50,373.36 L287.80,373.70 L288.10,373.95 L288.40,373.81 L288.70,373.77 L289.00,373.65 L289.30,373.31 L289.60,373.00 L289.90,373.01 L290.20,372.86 L290.50,373.44 L290.80,373.56 L291.10,373.42 L291.40,373.40 L291.70,373.44 L292.00,373.47 L292.30,373.53 L292.60,373.61 L292.90,373.71 L293.20,373.83 L293.50,373.73 L293.80,373.73 L294.10,373.82 L294.40,373.98 L294.70,373.54 L295.00,373.27 L295.30,373.23 L295.60,373.44 L295.90,373.95 L296.20,374.15 L296.50,374.20 L296.80,374.27 L297.10,374.28 L297.40,374.09 L297.70,373.94 L298.00,374.10 L298.30,373.86 L298.60,373.83 L298.90,373.94 L299.20,374.14 L299.50,374.13 L299.80,373.93 L300.10,373.72 L300.40,373.65 L300.70,373.46 L301.00,373.55 L301.30,373.87 L301.60,374.37 L301.90,374.40 L302.20,374.29 L302.50,374.19 L302.80,374.28 L303.10,374.28 L303.40,374.13 L303.70,374.05 L304.00,374.24 L304.30,373.96 L304.60,373.71 L304.90,373.62 L305.20,373.82 L305.50,373.96 L305.80,374.06 L306.10,374.06 L306.40,373.92 L306.70,373.62 L307.00,373.73 L307.30,374.03 L307.60,374.29 L307.90,374.23 L308.20,374.23 L308.50,374.17 L308.80,373.95 L309.10,373.83 L309.40,373.56 L309.70,373.29 L310.00,373.06 L310.30,372.89 L310.60,372.92 L310.90,372.90 L311.20,372.69 L311.50,372.82 L311.80,373.43 L312.10,373.82 L312.40,373.90 L312.70,373.96 L313.00,374.01 L313.30,373.87 L313.60,373.37 L313.90,373.28 L314.20,373.50 L314.50,373.85 L314.80,374.12 L315.10,373.88 L315.40,373.45 L315.70,372.92 L316.00,372.27 L316.30,372.47 L316.60,372.59 L316.90,372.67 L317.20,372.70 L317.50,372.72 L317.80,373.06 L318.10,373.27 L318.40,373.47 L318.70,373.01 L319.00,372.37 L319.30,372.32 L319.60,372.58 L319.90,372.85 L320.20,372.70 L320.50,372.47 L320.80,373.02 L321.10,373.62 L321.40,373.78 L321.70,373.77 L322.00,373.85 L322.30,373.64 L322.60,373.75 L322.90,373.84 L323.20,373.59 L323.50,373.54 L323.80,373.81 L324.10,374.19 L324.40,374.49 L324.70,374.48 L325.00,374.40 L325.30,374.36 L325.60,374.44 L325.90,374.42 L326.20,374.17 L326.50,373.85 L326.80,373.63 L327.10,373.90 L327.40,373.87 L327.70,373.70 L328.00,373.54 L328.30,373.47 L328.60,373.11 L328.90,372.38 L329.20,372.06 L329.50,372.29 L329.80,372.58 L330.10,373.44 L330.40,373.97 L330.70,374.24 L331.00,374.33 L331.30,374.34 L331.60,374.34 L331.90,374.20 L332.20,374.13 L332.50,374.05 L332.80,373.86 L333.10,373.48 L333.40,373.37 L333.70,373.51 L334.00,373.84 L334.30,373.75 L334.60,373.85 L334.90,373.91 L335.20,373.70 L335.50,373.43 L335.80,373.48 L336.10,373.60 L336.40,373.51 L336.70,373.20 L337.00,373.01 L337.30,372.78 L337.60,372.41 L337.90,372.53 L338.20,372.65 L338.50,372.67 L338.80,372.45 L339.10,372.62 L339.40,373.29 L339.70,373.67 L340.00,373.83 L340.30,373.36 L340.60,373.04 L340.90,372.83 L341.20,372.67 L341.50,372.24 L341.80,372.22 L342.10,372.17 L342.40,372.13 L342.70,372.20 L343.00,372.31 L343.30,373.00 L343.60,373.45 L343.90,373.68 L344.20,373.65 L344.50,373.49 L344.80,373.31 L345.10,373.28 L345.40,373.33 L345.70,373.41 L346.00,373.46 L346.30,373.75 L346.60,374.04 L346.90,374.20 L347.20,374.08 L347.50,373.66 L347.80,373.38 L348.10,373.25 L348.40,373.32 L348.70,373.56 L349.00,373.72 L349.30,373.81 L349.60,373.88 L349.90,373.58 L350.20,373.54 L350.50,373.69 L350.80,374.00 L351.10,374.00 L351.40,374.02 L351.70,374.06 L352.00,374.14 L352.30,373.71 L352.60,373.54 L352.90,373.61 L353.20,373.87 L353.50,374.05 L353.80,374.30 L354.10,374.48 L354.40,374.49 L354.70,374.26 L355.00,374.20 L355.30,374.16 L355.60,374.04 L355.90,373.75 L356.20,373.73 L356.50,373.79 L356.80,373.70 L357.10,373.63 L357.40,373.50 L357.70,373.41 L358.00,373.45 L358.30,373.96 L358.60,374.20 L358.90,374.23 L359.20,374.12 L359.50,373.84 L359.80,373.70 L360.10,373.64 L360.40,373.61 L360.70,373.89 L361.00,374.15 L361.30,374.33 L361.60,374.37 L361.90,374.31 L362.20,374.08 L362.50,373.87 L362.80,373.89 L363.10,373.69 L363.40,373.66 L363.70,373.66 L364.00,373.56 L364.30,373.76 L364.60,373.86 L364.90,373.85 L365.20,373.72 L365.50,373.76 L365.80,373.90 L366.10,374.00 L366.40,373.91 L366.70,373.74 L367.00,373.57 L367.30,373.51 L367.60,373.68 L367.90,374.13 L368.20,374.33 L368.50,374.29 L368.80,374.03 L369.10,374.23 L369.40,374.27 L369.70,374.10 L370.00,373.67 L370.30,373.66 L370.60,373.79 L370.90,373.92 L371.20,373.90 L371.50,374.12 L371.80,374.07 L372.10,373.99 L372.40,374.10 L372.70,374.05 L373.00,373.90 L373.30,373.84 L373.60,374.04 L373.90,373.77 L374.20,373.48 L374.50,373.28 L374.80,373.26 L375.10,373.53 L375.40,373.67 L375.70,373.67 L376.00,373.49 L376.30,373.46 L376.60,372.97 L376.90,372.72 L377.20,372.80 L377.50,372.44 L377.80,372.28 L378.10,372.26 L378.40,372.75 L378.70,373.21 L379.00,373.42 L379.30,373.55 L379.60,373.71 L379.90,374.00 L380.20,374.06 L380.50,374.00 L380.80,373.92 L381.10,373.88 L381.40,373.99 L381.70,374.08 L382.00,374.03 L382.30,374.17 L382.60,374.28 L382.90,374.29 L383.20,374.08 L383.50,373.86 L383.80,373.78 L384.10,373.90 L384.40,374.26 L384.70,374.32 L385.00,374.24 L385.30,374.04 L385.60,373.71 L385.90,373.82 L386.20,374.00 L386.50,374.07 L386.80,373.87 L387.10,374.05 L387.40,374.02 L387.70,373.86 L388.00,373.61 L388.30,373.58 L388.60,373.55 L388.90,373.64 L389.20,373.99 L389.50,374.00 L389.80,373.74 L390.10,373.52 L390.40,373.65 L390.70,373.90 L391.00,373.85 L391.30,373.77 L391.60,373.93 L391.90,374.13 L392.20,374.07 L392.50,373.88 L392.80,373.70 L393.10,374.09 L393.40,374.24 L393.70,374.19 L394.00,373.98 L394.30,373.84 L394.60,373.84 L394.90,373.84 L395.20,373.71 L395.50,373.48 L395.80,373.36 L396.10,373.30 L396.40,373.27 L396.70,373.36 L397.00,373.50 L397.30,373.70 L397.60,373.97 L397.90,374.02 L398.20,374.07 L398.50,374.10 L398.80,374.09 L399.10,373.72 L399.40,373.57 L399.70,373.53 L400.00,373.46 L400.30,373.54 L400.60,373.47 L400.90,373.34 L401.20,373.26 L401.50,373.35 L401.80,373.57 L402.10,373.83 L402.40,374.04 L402.70,373.90 L403.00,373.91 L403.30,373.89 L403.60,373.67 L403.90,373.63 L404.20,373.65 L404.50,373.63 L404.80,373.49 L405.10,373.68 L405.40,373.90 L405.70,374.06 L406.00,374.08 L406.30,373.78 L406.60,373.87 L406.90,374.06 L407.20,374.07 L407.50,373.91 L407.80,373.74 L408.10,373.73 L408.40,374.04 L408.70,373.88 L409.00,373.85 L409.30,373.93 L409.60,374.07 L409.90,374.25 L410.20,374.28 L410.50,374.27 L410.80,374.29 L411.10,373.96 L411.40,373.92 L411.70,373.99 L412.00,374.02 L412.30,373.98 L412.60,374.00 L412.90,374.01 L413.20,373.93 L413.50,373.84 L413.80,373.83 L414.10,373.78 L414.40,373.56 L414.70,373.69 L415.00,373.75 L415.30,373.73 L415.60,373.65 L415.90,373.85 L416.20,373.94 L416.50,373.86 L416.80,373.55 L417.10,373.49 L417.40,373.47 L417.70,373.54 L418.00,373.73 L418.30,373.53 L418.60,373.49 L418.90,373.57 L419.20,373.76 L419.50,373.71 L419.80,373.65 L420.10,373.72 L420.40,374.08 L420.70,373.89 L421.00,373.83 L421.30,373.80 L421.60,373.71 L421.90,373.82 L422.20,373.80 L422.50,373.73 L422.80,373.68 L423.10,373.81 L423.40,373.92 L423.70,374.01 L424.00,374.07 L424.30,374.04 L424.60,373.83 L424.90,373.56 L425.20,373.39 L425.50,373.47 L425.80,373.60 L426.10,373.75 L426.40,373.92 L426.70,373.83 L427.00,373.69 L427.30,373.56 L427.60,373.51 L427.90,373.69 L428.20,373.66 L428.50,373.65 L428.80,373.85 L429.10,374.04 L429.40,374.04 L429.70,373.87 L430.00,373.58 L430.30,373.74 L430.60,373.96 L430.90,374.02 L431.20,373.71 L431.50,373.87 L431.80,373.92 L432.10,373.93 L432.40,373.95 L432.70,373.78 L433.00,373.63 L433.30,373.58 L433.60,373.69 L433.90,373.61 L434.20,373.87 L434.50,374.18 L434.80,374.24 L435.10,373.97 L435.40,373.89 L435.70,373.94 L436.00,374.08 L436.30,374.17 L436.60,373.88 L436.90,373.56 L437.20,373.55 L437.50,373.77 L437.80,374.02 L438.10,374.19 L438.40,374.17 L438.70,373.85 L439.00,373.61 L439.30,373.57 L439.60,373.86 L439.90,373.77 L440.20,373.65 L440.50,373.64 L440.80,373.88 L441.10,373.84 L441.40,373.73 L441.70,373.64 L442.00,373.64 L442.30,373.74 L442.60,373.71 L442.90,373.70 L443.20,373.86 L443.50,374.16 L443.80,374.09 L444.10,373.87 L444.40,373.67 L444.70,373.89 L445.00,374.18 L445.30,374.39 L445.60,374.40 L445.90,374.31 L446.20,374.33 L446.50,374.36 L446.80,374.30 L447.10,374.16 L447.40,373.95 L447.70,373.74 L448.00,373.63 L448.30,373.94 L448.60,374.13 L448.90,374.24 L449.20,374.30 L449.50,374.07 L449.80,374.04 L450.10,374.04 L450.40,373.89 L450.70,374.24 L451.00,374.35 L451.30,374.15 L451.60,373.58 L451.90,373.71 L452.20,374.09 L452.50,374.45 L452.80,374.52 L453.10,374.19 L453.40,373.77 L453.70,373.42 L454.00,373.26 L454.30,373.55 L454.60,373.98 L454.90,374.30 L455.20,374.28 L455.50,374.07 L455.80,374.11 L456.10,374.24 L456.40,374.27 L456.70,374.03 L457.00,374.02 L457.30,374.01 L457.60,373.74 L457.90,373.58 L458.20,373.43 L458.50,373.36 L458.80,373.46 L459.10,373.63 L459.40,373.59 L459.70,373.54 L460.00,373.69 L460.30,373.68 L460.60,373.79 L460.90,373.81 L461.20,373.54 L461.50,373.46 L461.80,373.53 L462.10,373.70 L462.40,373.98 L462.70,374.19 L463.00,374.27 L463.30,374.26 L463.60,374.23 L463.90,374.15 L464.20,374.02 L464.50,373.85 L464.80,373.65 L465.10,373.65 L465.40,373.86 L465.70,374.04 L466.00,373.94 L466.30,373.87 L466.60,373.66 L466.90,373.48 L467.20,373.48 L467.50,373.42 L467.80,373.53 L468.10,373.73 L468.40,373.95 L468.70,373.84 L469.00,373.80 L469.30,373.72 L469.60,373.45 L469.90,373.48 L470.20,373.52 L470.50,373.52 L470.80,373.41 L471.10,373.14 L471.40,372.84 L471.70,372.98 L472.00,373.20 L472.30,373.02 L472.60,372.66 L472.90,372.40 L473.20,372.86 L473.50,373.25 L473.80,373.44 L474.10,373.49 L474.40,373.41 L474.70,373.70 L475.00,373.85 L475.30,373.92 L475.60,374.01 L475.90,373.60 L476.20,373.52 L476.50,373.65 L476.80,373.86 L477.10,374.09 L477.40,374.10 L477.70,373.90 L478.00,373.52 L478.30,373.57 L478.60,373.74 L478.90,373.85 L479.20,373.68 L479.50,373.65 L479.80,373.89 L480.10,374.13 L480.40,374.09 L480.70,373.75 L481.00,373.69 L481.30,373.77 L481.60,373.86 L481.90,373.55 L482.20,373.58 L482.50,373.68 L482.80,373.60 L483.10,373.18 L483.40,373.03 L483.70,372.98 L484.00,372.94 L484.30,372.85 L484.60,372.76 L484.90,372.64 L485.20,372.47 L485.50,372.66 L485.80,372.79 L486.10,372.85 L486.40,372.79 L486.70,372.83 L487.00,372.83 L487.30,372.86 L487.60,373.03 L487.90,372.91 L488.20,372.69 L488.50,372.88 L488.80,373.29 L489.10,373.21 L489.40,373.07 L489.70,372.99 L490.00,373.07 L490.30,373.31 L490.60,373.50 L490.90,373.58 L491.20,373.49 L491.50,373.50 L491.80,373.69 L492.10,373.88 L492.40,373.86 L492.70,373.98 L493.00,373.88 L493.30,373.78 L493.60,373.87 L493.90,373.86 L494.20,374.00 L494.50,374.14 L494.80,374.13 L495.10,373.97 L495.40,373.77 L495.70,373.68 L496.00,373.91 L496.30,373.88 L496.60,374.00 L496.90,374.13 L497.20,374.13 L497.50,373.64 L497.80,373.44 L498.10,373.57 L498.40,374.09 L498.70,374.39 L499.00,374.42 L499.30,374.27 L499.60,374.03 L499.90,374.02 L500.20,373.71 L500.50,373.40 L500.80,373.36 L501.10,373.71 L501.40,373.93 L501.70,374.04 L502.00,374.10 L502.30,373.82 L502.60,373.82 L502.90,374.00 L503.20,374.25 L503.50,373.93 L503.80,373.80 L504.10,373.85 L504.40,374.10 L504.70,374.23 L505.00,374.04 L505.30,373.84 L505.60,373.94 L505.90,373.86 L506.20,373.77 L506.50,373.68 L506.80,373.63 L507.10,373.76 L507.40,373.86 L507.70,373.89 L508.00,373.82 L508.30,373.88 L508.60,374.01 L508.90,374.16 L509.20,374.27 L509.50,374.08 L509.80,373.98 L510.10,374.00 L510.40,374.17 L510.70,373.74 L511.00,373.55 L511.30,373.64 L511.60,374.05 L511.90,373.79 L512.20,373.59 L512.50,373.51 L512.80,373.64 L513.10,373.66 L513.40,373.75 L513.70,373.89 L514.00,374.10 L514.30,373.80 L514.60,373.56 L514.90,373.48 L515.20,373.66 L515.50,374.06 L515.80,374.06 L516.10,373.90 L516.40,373.83 L516.70,374.13 L517.00,374.30 L517.30,374.31 L517.60,374.13 L517.90,374.11 L518.20,373.92 L518.50,373.73 L518.80,373.71 L519.10,373.81 L519.40,373.73 L519.70,373.59 L520.00,373.52 L520.30,373.49 L520.60,373.58 L520.90,373.82 L521.20,374.22 L521.50,374.16 L521.80,373.87 L522.10,373.62 L522.40,373.71 L522.70,374.05 L523.00,374.23 L523.30,374.26 L523.60,374.13 L523.90,374.06 L524.20,373.93 L524.50,373.90 L524.80,374.17 L525.10,374.22 L525.40,374.04 L525.70,373.74 L526.00,373.49 L526.30,373.45 L526.60,373.67 L526.90,373.91 L527.20,373.90 L527.50,373.60 L527.80,373.69 L528.10,373.96 L528.40,374.16 L528.70,373.66 L529.00,373.40 L529.30,373.31 L529.60,373.37 L529.90,373.60 L530.20,373.78 L530.50,373.93 L530.80,374.07 L531.10,373.66 L531.40,373.58 L531.70,373.74 L532.00,374.06 L532.30,373.66 L532.60,373.51 L532.90,373.52 L533.20,373.58 L533.50,373.41 L533.80,373.47 L534.10,373.68 L534.40,373.96 L534.70,374.04 L535.00,374.07 L535.30,374.08 L535.60,374.10 L535.90,373.95 L536.20,373.73 L536.50,373.65 L536.80,373.92 L537.10,373.93 L537.40,373.79 L537.70,373.65 L538.00,373.66 L538.30,373.73 L538.60,373.92 L538.90,373.99 L539.20,373.71 L539.50,373.64 L539.80,373.88 L540.10,374.19 L540.40,374.33 L540.70,374.34 L541.00,374.24 L541.30,374.07 L541.60,373.87 L541.90,373.87 L542.20,373.92 L542.50,374.01 L542.80,374.13 L543.10,374.23 L543.40,374.08 L543.70,373.91 L544.00,373.92 L544.30,373.57 L544.60,373.53 L544.90,373.74 L545.20,374.13 L545.50,373.89 L545.80,373.88 L546.10,374.05 L546.40,374.32 L546.70,374.20 L547.00,374.08 L547.30,374.05 L547.60,374.22 L547.90,374.45 L548.20,374.43 L548.50,374.17 L548.80,373.64 L549.10,373.47 L549.40,373.45 L549.70,373.52 L550.00,373.59 L550.30,374.00 L550.60,374.15 L550.90,374.01 L551.20,373.55 L551.50,373.40 L551.80,373.51 L552.10,373.77 L552.40,374.09 L552.70,374.16 L553.00,374.09 L553.30,374.02 L553.60,374.14 L553.90,374.36 L554.20,374.34 L554.50,374.12 L554.80,373.73 L555.10,373.98 L555.40,374.20 L555.70,374.33 L556.00,374.32 L556.30,373.96 L556.60,373.70 L556.90,373.60 L557.20,373.73 L557.50,373.74 L557.80,373.80 L558.10,373.94 L558.40,374.18 L558.70,374.18 L559.00,374.16 L559.30,374.11 L559.60,373.98 L559.90,373.61 L560.20,373.42 L560.50,373.46 L560.80,373.78 L561.10,374.11 L561.40,374.22 L561.70,374.23 L562.00,374.24 L562.30,374.19 L562.60,374.26 L562.90,374.38 L563.20,374.49 L563.50,374.38 L563.80,374.39 L564.10,374.45 L564.40,374.50 L564.70,374.39 L565.00,374.24 L565.30,373.96 L565.60,373.47 L565.90,373.48 L566.20,373.77 L566.50,373.98 L566.80,373.73 L567.10,373.58 L567.40,373.54 L567.70,373.60 L568.00,373.77 L568.30,373.64 L568.60,373.78 L568.90,373.94 L569.20,373.88 L569.50,374.10 L569.80,374.29 L570.10,374.34 L570.40,374.17 L570.70,373.98 L571.00,374.01 L571.30,374.15 L571.60,374.31 L571.90,374.17 L572.20,373.85 L572.50,373.56 L572.80,373.49 L573.10,373.97 L573.40,374.05 L573.70,373.88 L574.00,373.55 L574.30,373.76 L574.60,373.88 L574.90,373.90 L575.20,373.85 L575.50,374.03 L575.80,373.88 L576.10,373.61 L576.40,373.43 L576.70,373.53 L577.00,373.68 L577.30,373.91 L577.60,374.23 L577.90,374.08 L578.20,373.79 L578.50,373.55 L578.80,373.55 L579.10,373.55 L579.40,373.80 L579.70,374.07 L580.00,374.13 L580.30,373.74 L580.60,373.63 L580.90,373.64 L581.20,373.56 L581.50,373.63 L581.80,373.89 L582.10,374.16 L582.40,374.25 L582.70,373.88 L583.00,373.71 L583.30,373.61 L583.60,373.40 L583.90,373.23 L584.20,373.20 L584.50,373.06 L584.80,372.48 L585.10,372.75 L585.40,372.86 L585.70,372.77 L586.00,372.48 L586.30,372.56 L586.60,373.03 L586.90,373.34 L587.20,373.65 L587.50,373.61 L587.80,373.71 L588.10,373.84 L588.40,373.86 L588.70,373.64 L589.00,373.33 L589.30,372.76 L589.60,372.87 L589.90,372.78 L590.20,372.82 L590.50,373.15 L590.80,373.51 L591.10,373.66 L591.40,373.79 L591.70,373.87 L592.00,373.80 L592.30,373.95 L592.60,373.97 L592.90,373.99 L593.20,374.11 L593.50,374.21 L593.80,374.27 L594.10,374.19 L594.40,373.88 L594.70,373.86 L595.00,374.07 L595.30,374.21 L595.60,374.02 L595.90,373.91 L596.20,373.91 L596.50,373.93 L596.80,373.85 L597.10,374.18 L597.40,374.29 L597.70,374.22 L598.00,374.03 L598.30,373.88 L598.60,374.02 L598.90,374.27 L599.20,374.43 L599.50,374.40 L599.80,374.30 L600.10,374.08 L600.40,373.70 L600.70,373.97 L601.00,374.16 L601.30,374.14 L601.60,373.80 L601.90,373.53 L602.20,373.53 L602.50,373.54 L602.80,373.32 L603.10,373.17 L603.40,373.15 L603.70,373.08 L604.00,373.17 L604.30,373.04 L604.60,373.01 L604.90,373.66 L605.20,373.83 L605.50,373.70 L605.80,373.52 L606.10,373.42 L606.40,373.53 L606.70,373.74 L607.00,373.85 L607.30,373.81 L607.60,373.60 L607.90,373.47 L608.20,373.48 L608.50,373.57 L608.80,373.68 L609.10,373.99 L609.40,373.91 L609.70,373.73 L610.00,373.72 L610.30,373.80 L610.60,373.75 L610.90,373.72 L611.20,373.83 L611.50,373.81 L611.80,373.72 L612.10,373.77 L612.40,374.17 L612.70,374.01 L613.00,373.84 L613.30,373.83 L613.60,374.12 L613.90,373.89 L614.20,373.90 L614.50,373.96 L614.80,373.87 L615.10,373.70 L615.40,373.67 L615.70,373.73 L616.00,373.80 L616.30,373.72 L616.60,373.65 L616.90,373.63 L617.20,373.73 L617.50,373.83 L617.80,373.91 L618.10,373.85 L618.40,373.54 L618.70,373.51 L619.00,373.71 L619.30,373.86 L619.60,373.65 L619.90,373.84 L620.20,374.01 L620.50,374.15 L620.80,374.25 L621.10,373.97 L621.40,373.96 L621.70,373.93 L622.00,373.58 L622.30,373.55 L622.60,373.69 L622.90,373.80 L623.20,373.67 L623.50,373.86 L623.80,373.95 L624.10,373.90 L624.40,373.70 L624.70,373.94 L625.00,374.04 L625.30,374.08 L625.60,374.15 L625.90,373.64 L626.20,373.44 L626.50,373.51 L626.80,373.81 L627.10,373.72 L627.40,373.77 L627.70,373.94 L628.00,374.19 L628.30,373.86 L628.60,373.54 L628.90,373.37 L629.20,373.46 L629.50,373.81 L629.80,374.08 L630.10,374.23 L630.40,374.20 L630.70,373.96 L631.00,373.71 L631.30,373.51 L631.60,373.40 L631.90,373.44 L632.20,373.56 L632.50,373.79 L632.80,374.15 L633.10,373.90 L633.40,373.70 L633.70,373.65 L634.00,373.90 L634.30,373.79 L634.60,373.68 L634.90,373.79 L635.20,374.32 L635.50,374.36 L635.80,374.15 L636.10,373.97 L636.40,374.11 L636.70,374.04 L637.00,374.05 L637.30,374.11 L637.60,374.16 L637.90,374.14 L638.20,373.97 L638.50,373.77 L638.80,373.65 L639.10,373.95 L639.40,373.98 L639.70,373.92 L640.00,373.91 L640.30,374.10 L640.60,374.23 L640.90,374.31 L641.20,374.36 L641.50,374.08 L641.80,373.92 L642.10,373.76 L642.40,373.45 L642.70,373.38 L643.00,373.42 L643.30,373.52 L643.60,373.61 L643.90,373.68 L644.20,373.73 L644.50,373.87 L644.80,374.18 L645.10,373.99 L645.40,373.90 L645.70,373.97 L646.00,374.20 L646.30,373.15 L646.60,374.22 L646.90,374.34 L647.20,374.41 L647.50,374.23 L647.80,374.05 L648.10,373.97 L648.40,374.11 L648.70,373.82 L649.00,373.91 L649.30,374.04 L649.60,373.90 L649.90,373.76 L650.20,373.76 L650.50,373.82 L650.80,373.91 L651.10,374.19 L651.40,374.32 L651.70,374.30 L652.00,374.13 L652.30,373.82 L652.60,373.68 L652.90,373.62 L653.20,373.57 L653.50,373.78 L653.80,373.69 L654.10,373.54 L654.40,373.56 L654.70,373.64 L655.00,373.95 L655.30,374.26 L655.60,374.32 L655.90,374.04 L656.20,374.01 L656.50,374.00 L656.80,373.78 L657.10,373.88 L657.40,373.82 L657.70,373.74 L658.00,373.81 L658.30,373.91 L658.60,373.82 L658.90,373.68 L659.20,373.61 L659.50,373.88 L659.80,374.16 L660.10,374.35 L660.40,374.38 L660.70,373.96 L661.00,373.66 L661.30,373.46 L661.60,373.36 L661.90,373.36 L662.20,373.34 L662.50,373.38 L662.80,373.60 L663.10,373.83 L663.40,373.79 L663.70,373.71 L664.00,373.85 L664.30,373.72 L664.60,373.63 L664.90,373.64 L665.20,373.78 L665.50,373.81 L665.80,373.77 L666.10,373.68 L666.40,373.56 L666.70,373.86 L667.00,374.05 L667.30,373.96 L667.60,373.45 L667.90,373.41 L668.20,373.59 L668.50,373.76 L668.80,373.67 L669.10,373.67 L669.40,373.12 L669.70,374.09 L670.00,373.98 L670.30,374.18 L670.60,374.12 L670.90,373.85 L671.20,373.44 L671.50,373.42 L671.80,373.44 L672.10,373.58 L672.40,373.93 L672.70,374.09 L673.00,373.81 L673.30,373.41 L673.60,373.20 L673.90,373.25 L674.20,373.36 L674.50,373.51 L674.80,373.67 L675.10,374.15 L675.40,374.36 L675.70,374.41 L676.00,374.40 L676.30,374.25 L676.60,374.24 L676.90,374.24 L677.20,374.12 L677.50,373.90 L677.80,373.87 L678.10,373.87 L678.40,373.74 L678.70,373.86 L679.00,374.00 L679.30,373.98 L679.60,373.65 L679.90,373.63 L680.20,373.87 L680.50,374.05 L680.80,373.87 L681.10,373.62 L681.40,373.56 L681.70,373.62 L682.00,373.77 L682.30,374.08 L682.60,374.15 L682.90,374.16 L683.20,374.26 L683.50,374.16 L683.80,374.27 L684.10,374.41 L684.40,374.43 L684.70,374.24 L685.00,374.14 L685.30,374.00 L685.60,373.68 L685.90,373.56 L686.20,373.63 L686.50,373.69 L686.80,373.52 L687.10,373.71 L687.40,373.93 L687.70,374.13 L688.00,374.30 L688.30,374.26 L688.60,374.06 L688.90,373.93 L689.20,374.14 L689.50,374.07 L689.80,374.02 L690.10,374.00 L690.40,374.01 L690.70,374.11 L691.00,373.91 L691.30,373.63 L691.60,373.50 L691.90,373.95 L692.20,374.15 L692.50,374.16 L692.80,374.03 L693.10,373.66 L693.40,373.55 L693.70,373.67 L694.00,374.00 L694.30,374.16 L694.60,374.18 L694.90,374.13 L695.20,374.08 L695.50,373.99 L695.80,373.79 L696.10,373.64 L696.40,373.70 L696.70,373.78 L697.00,373.93 L697.30,374.06 L697.60,374.05 L697.90,374.13 L698.20,374.21 L698.50,374.30 L698.80,374.43 L699.10,374.26 L699.40,373.93 L699.70,373.71 L700.00,373.88 L700.30,373.76 L700.60,373.61 L700.90,373.59 L701.20,373.86 L701.50,374.18 L701.80,374.22 L702.10,374.00 L702.40,373.54 L702.70,373.57 L703.00,373.85 L703.30,374.16 L703.60,374.25 L703.90,373.72 L704.20,373.50 L704.50,373.59 L704.80,373.99 L705.10,374.11 L705.40,374.14 L705.70,374.02 L706.00,373.72 L706.30,373.85 L706.60,374.01 L706.90,374.06 L707.20,373.85 L707.50,373.69 L707.80,373.59 L708.10,373.66 L708.40,374.01 L708.70,373.93 L709.00,373.86 L709.30,373.89 L709.60,374.11 L709.90,374.31 L710.20,374.33 L710.50,374.19 L710.80,373.90 L711.10,373.91 L711.40,373.92 L711.70,374.01 L712.00,374.26 L712.30,374.30 L712.60,374.27 L712.90,374.23 L713.20,374.24 L713.50,374.08 L713.80,373.95 L714.10,373.82 L714.40,373.68" fill="none" stroke="#1c1c1c" stroke-width="0.95" stroke-linejoin="round"/>
<line x1="102.2" y1="399.7" x2="714" y2="399.7" stroke="#a8a8a8" stroke-width="1.4"/>
<path d="M709.90,399.9 V401.2 M706.51,399.9 V401.2 M703.11,399.9 V401.2 M699.72,399.9 V401.2 M696.33,399.9 V401.2 M692.94,399.9 V401.2 M689.55,399.9 V401.2 M686.15,399.9 V401.2 M682.76,399.9 V401.2 M675.98,399.9 V401.2 M672.59,399.9 V401.2 M669.19,399.9 V401.2 M665.80,399.9 V401.2 M662.41,399.9 V401.2 M659.02,399.9 V401.2 M655.63,399.9 V401.2 M652.23,399.9 V401.2 M648.84,399.9 V401.2 M642.06,399.9 V401.2 M638.67,399.9 V401.2 M635.27,399.9 V401.2 M631.88,399.9 V401.2 M628.49,399.9 V401.2 M625.10,399.9 V401.2 M621.71,399.9 V401.2 M618.31,399.9 V401.2 M614.92,399.9 V401.2 M608.14,399.9 V401.2 M604.75,399.9 V401.2 M601.35,399.9 V401.2 M597.96,399.9 V401.2 M594.57,399.9 V401.2 M591.18,399.9 V401.2 M587.79,399.9 V401.2 M584.39,399.9 V401.2 M581.00,399.9 V401.2 M574.22,399.9 V401.2 M570.83,399.9 V401.2 M567.43,399.9 V401.2 M564.04,399.9 V401.2 M560.65,399.9 V401.2 M557.26,399.9 V401.2 M553.87,399.9 V401.2 M550.47,399.9 V401.2 M547.08,399.9 V401.2 M540.30,399.9 V401.2 M536.91,399.9 V401.2 M533.51,399.9 V401.2 M530.12,399.9 V401.2 M526.73,399.9 V401.2 M523.34,399.9 V401.2 M519.95,399.9 V401.2 M516.55,399.9 V401.2 M513.16,399.9 V401.2 M506.38,399.9 V401.2 M502.99,399.9 V401.2 M499.59,399.9 V401.2 M496.20,399.9 V401.2 M492.81,399.9 V401.2 M489.42,399.9 V401.2 M486.03,399.9 V401.2 M482.63,399.9 V401.2 M479.24,399.9 V401.2 M472.46,399.9 V401.2 M469.07,399.9 V401.2 M465.67,399.9 V401.2 M462.28,399.9 V401.2 M458.89,399.9 V401.2 M455.50,399.9 V401.2 M452.11,399.9 V401.2 M448.71,399.9 V401.2 M445.32,399.9 V401.2 M438.54,399.9 V401.2 M435.15,399.9 V401.2 M431.75,399.9 V401.2 M428.36,399.9 V401.2 M424.97,399.9 V401.2 M421.58,399.9 V401.2 M418.19,399.9 V401.2 M414.79,399.9 V401.2 M411.40,399.9 V401.2 M404.62,399.9 V401.2 M401.23,399.9 V401.2 M397.83,399.9 V401.2 M394.44,399.9 V401.2 M391.05,399.9 V401.2 M387.66,399.9 V401.2 M384.27,399.9 V401.2 M380.87,399.9 V401.2 M377.48,399.9 V401.2 M370.70,399.9 V401.2 M367.31,399.9 V401.2 M363.91,399.9 V401.2 M360.52,399.9 V401.2 M357.13,399.9 V401.2 M353.74,399.9 V401.2 M350.35,399.9 V401.2 M346.95,399.9 V401.2 M343.56,399.9 V401.2 M336.78,399.9 V401.2 M333.39,399.9 V401.2 M329.99,399.9 V401.2 M326.60,399.9 V401.2 M323.21,399.9 V401.2 M319.82,399.9 V401.2 M316.43,399.9 V401.2 M313.03,399.9 V401.2 M309.64,399.9 V401.2 M302.86,399.9 V401.2 M299.47,399.9 V401.2 M296.07,399.9 V401.2 M292.68,399.9 V401.2 M289.29,399.9 V401.2 M285.90,399.9 V401.2 M282.51,399.9 V401.2 M279.11,399.9 V401.2 M275.72,399.9 V401.2 M268.94,399.9 V401.2 M265.55,399.9 V401.2 M262.15,399.9 V401.2 M258.76,399.9 V401.2 M255.37,399.9 V401.2 M251.98,399.9 V401.2 M248.59,399.9 V401.2 M245.19,399.9 V401.2 M241.80,399.9 V401.2 M235.02,399.9 V401.2 M231.63,399.9 V401.2 M228.23,399.9 V401.2 M224.84,399.9 V401.2 M221.45,399.9 V401.2 M218.06,399.9 V401.2 M214.67,399.9 V401.2 M211.27,399.9 V401.2 M207.88,399.9 V401.2 M201.10,399.9 V401.2 M197.71,399.9 V401.2 M194.31,399.9 V401.2 M190.92,399.9 V401.2 M187.53,399.9 V401.2 M184.14,399.9 V401.2 M180.75,399.9 V401.2 M177.35,399.9 V401.2 M173.96,399.9 V401.2 M167.18,399.9 V401.2 M163.79,399.9 V401.2 M160.39,399.9 V401.2 M157.00,399.9 V401.2 M153.61,399.9 V401.2 M150.22,399.9 V401.2 M146.83,399.9 V401.2 M143.43,399.9 V401.2 M140.04,399.9 V401.2 M133.26,399.9 V401.2 M129.87,399.9 V401.2 M126.47,399.9 V401.2 M123.08,399.9 V401.2 M119.69,399.9 V401.2 M116.30,399.9 V401.2 M112.91,399.9 V401.2 M109.51,399.9 V401.2 M106.12,399.9 V401.2" stroke="#222" stroke-width="1.0"/>
<path d="M713.29,399.7 V404.7 M679.37,399.7 V404.7 M645.45,399.7 V404.7 M611.53,399.7 V404.7 M577.61,399.7 V404.7 M543.69,399.7 V404.7 M509.77,399.7 V404.7 M475.85,399.7 V404.7 M441.93,399.7 V404.7 M408.01,399.7 V404.7 M374.09,399.7 V404.7 M340.17,399.7 V404.7 M306.25,399.7 V404.7 M272.33,399.7 V404.7 M238.41,399.7 V404.7 M204.49,399.7 V404.7 M170.57,399.7 V404.7 M136.65,399.7 V404.7" stroke="#8a8a8a" stroke-width="0.95"/>
<text transform="translate(679.22,416.0) scale(1,1.1)" font-size="9.8" text-anchor="middle" fill="#111" stroke="#111" stroke-width="0.2">20</text>
<text transform="translate(645.30,416.0) scale(1,1.1)" font-size="9.8" text-anchor="middle" fill="#111" stroke="#111" stroke-width="0.2">30</text>
<text transform="translate(611.38,416.0) scale(1,1.1)" font-size="9.8" text-anchor="middle" fill="#111" stroke="#111" stroke-width="0.2">40</text>
<text transform="translate(577.46,416.0) scale(1,1.1)" font-size="9.8" text-anchor="middle" fill="#111" stroke="#111" stroke-width="0.2">50</text>
<text transform="translate(543.54,416.0) scale(1,1.1)" font-size="9.8" text-anchor="middle" fill="#111" stroke="#111" stroke-width="0.2">60</text>
<text transform="translate(509.62,416.0) scale(1,1.1)" font-size="9.8" text-anchor="middle" fill="#111" stroke="#111" stroke-width="0.2">70</text>
<text transform="translate(475.70,416.0) scale(1,1.1)" font-size="9.8" text-anchor="middle" fill="#111" stroke="#111" stroke-width="0.2">80</text>
<text transform="translate(441.78,416.0) scale(1,1.1)" font-size="9.8" text-anchor="middle" fill="#111" stroke="#111" stroke-width="0.2">90</text>
<text transform="translate(407.86,416.0) scale(1,1.1)" font-size="9.8" text-anchor="middle" fill="#111" stroke="#111" stroke-width="0.2">100</text>
<text transform="translate(373.94,416.0) scale(1,1.1)" font-size="9.8" text-anchor="middle" fill="#111" stroke="#111" stroke-width="0.2">110</text>
<text transform="translate(340.02,416.0) scale(1,1.1)" font-size="9.8" text-anchor="middle" fill="#111" stroke="#111" stroke-width="0.2">120</text>
<text transform="translate(306.10,416.0) scale(1,1.1)" font-size="9.8" text-anchor="middle" fill="#111" stroke="#111" stroke-width="0.2">130</text>
<text transform="translate(272.18,416.0) scale(1,1.1)" font-size="9.8" text-anchor="middle" fill="#111" stroke="#111" stroke-width="0.2">140</text>
<text transform="translate(238.26,416.0) scale(1,1.1)" font-size="9.8" text-anchor="middle" fill="#111" stroke="#111" stroke-width="0.2">150</text>
<text transform="translate(204.34,416.0) scale(1,1.1)" font-size="9.8" text-anchor="middle" fill="#111" stroke="#111" stroke-width="0.2">160</text>
<text transform="translate(170.42,416.0) scale(1,1.1)" font-size="9.8" text-anchor="middle" fill="#111" stroke="#111" stroke-width="0.2">170</text>
<text transform="translate(136.50,416.0) scale(1,1.1)" font-size="9.8" text-anchor="middle" fill="#111" stroke="#111" stroke-width="0.2">180</text>
<text transform="translate(692.3,416.0) scale(1,1.1)" font-size="9.8" fill="#111" stroke="#111" stroke-width="0.2">ppm</text>
<text transform="translate(153.32,25.50) rotate(-90) scale(1.03,1)" font-size="7.9" fill="#111" stroke="#111" stroke-width="0.25">175.93</text>
<path d="M150.60,27.7 V42.4" stroke="#333" stroke-width="0.8" fill="none"/>
<text transform="translate(266.92,25.50) rotate(-90) scale(1.03,1)" font-size="7.9" fill="#111" stroke="#111" stroke-width="0.25">140.68</text>
<path d="M264.20,27.7 V29.3 L269.87,40.6 V42.4" stroke="#333" stroke-width="0.8" fill="none"/>
<text transform="translate(276.72,25.50) rotate(-90) scale(1.03,1)" font-size="7.9" fill="#111" stroke="#111" stroke-width="0.25">136.90</text>
<path d="M274.00,27.7 V29.3 L282.70,40.6 V42.4" stroke="#333" stroke-width="0.8" fill="none"/>
<text transform="translate(286.52,25.50) rotate(-90) scale(1.03,1)" font-size="7.9" fill="#111" stroke="#111" stroke-width="0.25">136.64</text>
<path d="M283.80,27.7 V42.4" stroke="#333" stroke-width="0.8" fill="none"/>
<text transform="translate(296.32,25.50) rotate(-90) scale(1.03,1)" font-size="7.9" fill="#111" stroke="#111" stroke-width="0.25">134.80</text>
<path d="M293.60,27.7 V29.3 L289.82,40.6 V42.4" stroke="#333" stroke-width="0.8" fill="none"/>
<text transform="translate(306.12,25.50) rotate(-90) scale(1.03,1)" font-size="7.9" fill="#111" stroke="#111" stroke-width="0.25">128.61</text>
<path d="M303.40,27.7 V29.3 L310.81,40.6 V42.4" stroke="#333" stroke-width="0.8" fill="none"/>
<text transform="translate(315.92,25.50) rotate(-90) scale(1.03,1)" font-size="7.9" fill="#111" stroke="#111" stroke-width="0.25">126.86</text>
<path d="M313.20,27.7 V29.3 L316.75,40.6 V42.4" stroke="#333" stroke-width="0.8" fill="none"/>
<text transform="translate(325.72,25.50) rotate(-90) scale(1.03,1)" font-size="7.9" fill="#111" stroke="#111" stroke-width="0.25">125.97</text>
<path d="M323.00,27.7 V29.3 L319.77,40.6 V42.4" stroke="#333" stroke-width="0.8" fill="none"/>
<text transform="translate(335.52,25.50) rotate(-90) scale(1.03,1)" font-size="7.9" fill="#111" stroke="#111" stroke-width="0.25">123.12</text>
<path d="M332.80,27.7 V29.3 L329.44,40.6 V42.4" stroke="#333" stroke-width="0.8" fill="none"/>
<text transform="translate(345.32,25.50) rotate(-90) scale(1.03,1)" font-size="7.9" fill="#111" stroke="#111" stroke-width="0.25">120.51</text>
<path d="M342.60,27.7 V29.3 L338.29,40.6 V42.4" stroke="#333" stroke-width="0.8" fill="none"/>
<text transform="translate(355.12,25.50) rotate(-90) scale(1.03,1)" font-size="7.9" fill="#111" stroke="#111" stroke-width="0.25">119.35</text>
<path d="M352.40,27.7 V29.3 L342.22,40.6 V42.4" stroke="#333" stroke-width="0.8" fill="none"/>
<text transform="translate(380.72,25.50) rotate(-90) scale(1.03,1)" font-size="7.9" fill="#111" stroke="#111" stroke-width="0.25">108.97</text>
<path d="M378.00,27.7 V29.3 L377.43,40.6 V42.4" stroke="#333" stroke-width="0.8" fill="none"/>
<text transform="translate(475.22,25.50) rotate(-90) scale(1.03,1)" font-size="7.9" fill="#111" stroke="#111" stroke-width="0.25">81.02</text>
<path d="M472.50,27.7 V42.4" stroke="#333" stroke-width="0.8" fill="none"/>
<text transform="translate(586.02,25.50) rotate(-90) scale(1.03,1)" font-size="7.9" fill="#111" stroke="#111" stroke-width="0.25">47.61</text>
<path d="M583.30,27.7 V29.3 L585.57,40.6 V42.4" stroke="#333" stroke-width="0.8" fill="none"/>
<text transform="translate(595.42,25.50) rotate(-90) scale(1.03,1)" font-size="7.9" fill="#111" stroke="#111" stroke-width="0.25">46.34</text>
<path d="M592.70,27.7 V29.3 L589.87,40.6 V42.4" stroke="#333" stroke-width="0.8" fill="none"/>
<text transform="translate(607.32,25.50) rotate(-90) scale(1.03,1)" font-size="7.9" fill="#111" stroke="#111" stroke-width="0.25">42.15</text>
<path d="M604.60,27.7 V29.3 L604.09,40.6 V42.4" stroke="#333" stroke-width="0.8" fill="none"/>
<text transform="translate(145.80,327.12) scale(1,1.0)" font-size="13.2" fill="#00b050">p</text>
<text transform="translate(260.21,329.10) scale(1,1.0)" font-size="13.2" fill="#00b050">m</text>
<text transform="translate(272.04,348.90) scale(1,1.0)" font-size="13.2" fill="#00b050">n</text>
<text transform="translate(286.97,347.47) scale(1,1.0)" font-size="13.2" fill="#00b050">o</text>
<text transform="translate(278.99,284.17) scale(1,1.0)" font-size="13.2" fill="#ff0000">a</text>
<text transform="translate(304.30,282.97) scale(1,1.0)" font-size="13.2" fill="#ff0000">e</text>
<text transform="translate(314.42,284.40) scale(1,1.0)" font-size="13.2" fill="#ff0000">i</text>
<text transform="translate(323.08,290.20) scale(1,1.0)" font-size="13.2" fill="#ff0000">f</text>
<text transform="translate(330.71,281.50) scale(1,1.0)" font-size="13.2" fill="#ff0000">k</text>
<text transform="translate(344.93,283.16) scale(1,1.0)" font-size="13.2" fill="#ff0000">j</text>
<text transform="translate(327.57,336.50) scale(1,1.0)" font-size="13.2" fill="#00b050">l</text>
<text transform="translate(374.82,279.20) scale(1,1.0)" font-size="13.2" fill="#ff0000">h</text>
<text transform="translate(467.15,276.37) scale(1,1.0)" font-size="13.2" fill="#ff0000">b</text>
<text transform="translate(580.61,273.17) scale(1,1.0)" font-size="13.2" fill="#ff0000">c</text>
<text transform="translate(588.79,326.51) scale(1,1.0)" font-size="13.2" fill="#ff0000">g</text>
<text transform="translate(601.43,325.97) scale(1,1.0)" font-size="13.2" fill="#ff0000">d</text>
<g><line x1="95.15" y1="92.80" x2="89.19" y2="111.16" stroke="#111" stroke-width="1.45" stroke-linecap="round"/><line x1="89.19" y1="111.16" x2="70.31" y2="115.17" stroke="#111" stroke-width="1.45" stroke-linecap="round"/><line x1="70.31" y1="115.17" x2="57.39" y2="100.83" stroke="#111" stroke-width="1.45" stroke-linecap="round"/><line x1="57.39" y1="100.83" x2="63.36" y2="82.47" stroke="#111" stroke-width="1.45" stroke-linecap="round"/><line x1="63.36" y1="82.47" x2="82.24" y2="78.46" stroke="#111" stroke-width="1.45" stroke-linecap="round"/><line x1="82.24" y1="78.46" x2="95.15" y2="92.80" stroke="#111" stroke-width="1.45" stroke-linecap="round"/><line x1="114.45" y1="92.80" x2="120.41" y2="111.16" stroke="#111" stroke-width="1.45" stroke-linecap="round"/><line x1="120.41" y1="111.16" x2="139.29" y2="115.17" stroke="#111" stroke-width="1.45" stroke-linecap="round"/><line x1="139.29" y1="115.17" x2="152.21" y2="100.83" stroke="#111" stroke-width="1.45" stroke-linecap="round"/><line x1="152.21" y1="100.83" x2="146.24" y2="82.47" stroke="#111" stroke-width="1.45" stroke-linecap="round"/><line x1="146.24" y1="82.47" x2="127.36" y2="78.46" stroke="#111" stroke-width="1.45" stroke-linecap="round"/><line x1="127.36" y1="78.46" x2="114.45" y2="92.80" stroke="#111" stroke-width="1.45" stroke-linecap="round"/><line x1="95.15" y1="92.80" x2="114.45" y2="92.80" stroke="#111" stroke-width="1.45" stroke-linecap="round"/><line x1="67.17" y1="84.62" x2="79.63" y2="81.98" stroke="#111" stroke-width="1.45" stroke-linecap="round"/><line x1="91.38" y1="95.02" x2="87.44" y2="107.14" stroke="#111" stroke-width="1.45" stroke-linecap="round"/><line x1="70.27" y1="110.79" x2="61.74" y2="101.32" stroke="#111" stroke-width="1.45" stroke-linecap="round"/><line x1="129.97" y1="81.98" x2="142.43" y2="84.62" stroke="#111" stroke-width="1.45" stroke-linecap="round"/><line x1="118.22" y1="95.02" x2="122.16" y2="107.14" stroke="#111" stroke-width="1.45" stroke-linecap="round"/><line x1="147.86" y1="101.32" x2="139.33" y2="110.79" stroke="#111" stroke-width="1.45" stroke-linecap="round"/><line x1="89.19" y1="111.16" x2="98.33" y2="117.80" stroke="#111" stroke-width="1.45" stroke-linecap="round"/><line x1="120.41" y1="111.16" x2="111.27" y2="117.80" stroke="#111" stroke-width="1.45" stroke-linecap="round"/><line x1="104.80" y1="129.70" x2="104.80" y2="140.10" stroke="#111" stroke-width="1.45" stroke-linecap="round"/><line x1="88.51" y1="149.73" x2="90.19" y2="168.96" stroke="#111" stroke-width="1.45" stroke-linecap="round"/><line x1="90.19" y1="168.96" x2="74.38" y2="180.03" stroke="#111" stroke-width="1.45" stroke-linecap="round"/><line x1="74.38" y1="180.03" x2="56.89" y2="171.87" stroke="#111" stroke-width="1.45" stroke-linecap="round"/><line x1="56.89" y1="171.87" x2="55.21" y2="152.64" stroke="#111" stroke-width="1.45" stroke-linecap="round"/><line x1="55.21" y1="152.64" x2="71.02" y2="141.57" stroke="#111" stroke-width="1.45" stroke-linecap="round"/><line x1="71.02" y1="141.57" x2="88.51" y2="149.73" stroke="#111" stroke-width="1.45" stroke-linecap="round"/><line x1="69.99" y1="145.83" x2="59.56" y2="153.14" stroke="#111" stroke-width="1.45" stroke-linecap="round"/><line x1="85.91" y1="153.25" x2="87.02" y2="165.94" stroke="#111" stroke-width="1.45" stroke-linecap="round"/><line x1="61.09" y1="170.63" x2="72.63" y2="176.01" stroke="#111" stroke-width="1.45" stroke-linecap="round"/><line x1="104.80" y1="140.10" x2="88.51" y2="149.73" stroke="#111" stroke-width="1.45" stroke-linecap="round"/><line x1="56.89" y1="171.87" x2="39.60" y2="182.50" stroke="#111" stroke-width="1.45" stroke-linecap="round"/><line x1="39.60" y1="182.50" x2="39.53" y2="195.00" stroke="#111" stroke-width="1.45" stroke-linecap="round"/><line x1="34.00" y1="205.30" x2="24.40" y2="212.30" stroke="#111" stroke-width="1.45" stroke-linecap="round"/><line x1="45.00" y1="205.30" x2="54.60" y2="212.30" stroke="#111" stroke-width="1.45" stroke-linecap="round"/><line x1="29.40" y1="231.00" x2="49.60" y2="231.00" stroke="#111" stroke-width="1.45" stroke-linecap="round"/><polygon points="29.40,231.00 26.43,211.76 22.37,212.84" fill="#000"/><polygon points="49.60,231.00 56.63,212.84 52.57,211.76" fill="#000"/><line x1="54.29" y1="210.83" x2="67.44" y2="208.51" stroke="#111" stroke-width="1.45" stroke-linecap="round"/><line x1="54.91" y1="213.77" x2="67.87" y2="210.51" stroke="#111" stroke-width="1.45" stroke-linecap="round"/><line x1="24.09" y1="213.77" x2="11.13" y2="210.51" stroke="#111" stroke-width="1.45" stroke-linecap="round"/><line x1="24.71" y1="210.83" x2="11.56" y2="208.51" stroke="#111" stroke-width="1.45" stroke-linecap="round"/><line x1="29.40" y1="231.00" x2="20.20" y2="247.30" stroke="#111" stroke-width="1.45" stroke-linecap="round"/><line x1="49.60" y1="231.00" x2="58.80" y2="247.10" stroke="#111" stroke-width="1.45" stroke-linecap="round"/><line x1="20.20" y1="247.30" x2="29.90" y2="264.10" stroke="#111" stroke-width="1.45" stroke-linecap="round"/><line x1="58.80" y1="247.10" x2="50.10" y2="264.10" stroke="#111" stroke-width="1.45" stroke-linecap="round"/><line x1="29.90" y1="264.10" x2="50.10" y2="264.10" stroke="#111" stroke-width="1.45" stroke-linecap="round"/><line x1="32.40" y1="260.90" x2="47.90" y2="260.90" stroke="#111" stroke-width="1.45" stroke-linecap="round"/><polygon points="20.20,247.30 31.71,252.72 32.89,248.28" fill="#000"/><polygon points="58.80,247.10 44.86,247.71 45.94,252.49" fill="#000"/></g>
<text transform="translate(100.40,126.50) scale(1,1.06)" font-size="12.6" fill="#000">N</text>
<text transform="translate(35.10,205.80) scale(1,1.06)" font-size="12.6" fill="#000">N</text>
<text transform="translate(0.02,213.36) scale(1,1.06)" font-size="13.2" fill="#000">O</text>
<text transform="translate(68.37,213.46) scale(1,1.06)" font-size="13.2" fill="#000">O</text>
<text transform="translate(33.93,257.37) scale(1,1.06)" font-size="12.8" fill="#000">O</text>
<text transform="translate(124.10,73.40) scale(1,1.06)" font-size="12.6" fill="#ff0000">k</text>
<text transform="translate(146.39,74.38) scale(1,1.06)" font-size="12.6" fill="#ff0000">j</text>
<text transform="translate(110.41,88.90) scale(1,1.06)" font-size="12.6" fill="#00b050">l</text>
<text transform="translate(156.46,103.90) scale(1,1.06)" font-size="12.6" fill="#ff0000">i</text>
<text transform="translate(116.37,124.80) scale(1,1.06)" font-size="12.6" fill="#00b050">m</text>
<text transform="translate(135.75,126.50) scale(1,1.06)" font-size="12.6" fill="#ff0000">h</text>
<text transform="translate(64.73,137.90) scale(1,1.06)" font-size="12.6" fill="#ff0000">f</text>
<text transform="translate(44.27,150.67) scale(1,1.06)" font-size="12.6" fill="#ff0000">e</text>
<text transform="translate(86.43,143.10) scale(1,1.06)" font-size="12.6" fill="#00b050">n</text>
<text transform="translate(107.76,147.29) scale(1,1.06)" font-size="12.6" fill="#ff0000">g</text>
<text transform="translate(54.20,183.17) scale(1,1.06)" font-size="12.6" fill="#00b050">o</text>
<text transform="translate(29.26,182.37) scale(1,1.06)" font-size="12.6" fill="#ff0000">d</text>
<text transform="translate(51.04,206.31) scale(1,1.06)" font-size="12.6" fill="#00b050">p</text>
<text transform="translate(54.63,232.77) scale(1,1.06)" font-size="12.6" fill="#ff0000">c</text>
<text transform="translate(60.29,250.57) scale(1,1.06)" font-size="12.6" fill="#ff0000">b</text>
<text transform="translate(51.97,269.17) scale(1,1.06)" font-size="12.6" fill="#ff0000">a</text>
</svg>
</body></html>
